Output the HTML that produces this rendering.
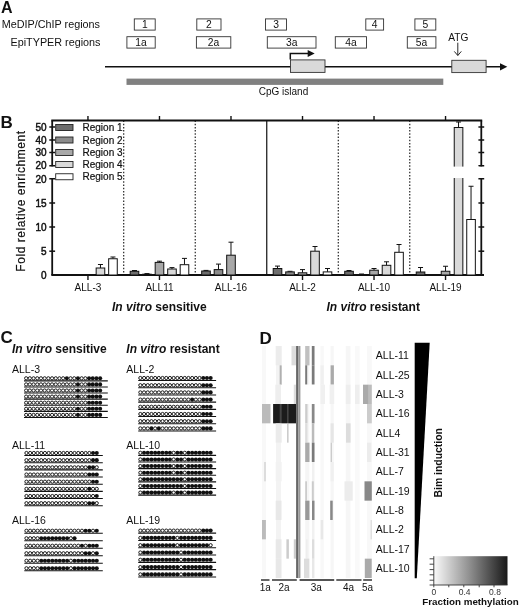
<!DOCTYPE html>
<html lang="en">
<head>
<meta charset="utf-8">
<title>Figure</title>
<style>
html,body{margin:0;padding:0;background:#fff;}
body{width:520px;height:608px;overflow:hidden;font-family:'Liberation Sans', sans-serif;}
svg{display:block;position:absolute;left:0;top:0;}
svg text{font-family:'Liberation Sans', sans-serif;}
</style>
</head>
<body>
<svg width="520" height="608" viewBox="0 0 520 608">
<rect x="0" y="0" width="520" height="608" fill="#ffffff"/>
<g id="panelA">
<text x="1" y="12.7" font-size="16" font-weight="bold" text-anchor="start" fill="#111" >A</text>
<text x="1.8" y="28" font-size="10.8" font-weight="normal" text-anchor="start" fill="#111" >MeDIP/ChIP regions</text>
<text x="10.5" y="46.2" font-size="10.8" font-weight="normal" text-anchor="start" fill="#111" >EpiTYPER regions</text>
<rect x="134.30" y="18.90" width="20.90" height="11.20" fill="#fff" stroke="#333" stroke-width="0.9" />
<text x="144.75" y="28.400000000000002" font-size="10.3" font-weight="normal" text-anchor="middle" fill="#111" >1</text>
<rect x="196.80" y="18.90" width="24.20" height="11.20" fill="#fff" stroke="#333" stroke-width="0.9" />
<text x="208.9" y="28.400000000000002" font-size="10.3" font-weight="normal" text-anchor="middle" fill="#111" >2</text>
<rect x="265.50" y="18.90" width="21.00" height="11.20" fill="#fff" stroke="#333" stroke-width="0.9" />
<text x="276.0" y="28.400000000000002" font-size="10.3" font-weight="normal" text-anchor="middle" fill="#111" >3</text>
<rect x="365.80" y="18.90" width="17.80" height="11.20" fill="#fff" stroke="#333" stroke-width="0.9" />
<text x="374.70000000000005" y="28.400000000000002" font-size="10.3" font-weight="normal" text-anchor="middle" fill="#111" >4</text>
<rect x="414.90" y="18.90" width="20.90" height="11.20" fill="#fff" stroke="#333" stroke-width="0.9" />
<text x="425.35" y="28.400000000000002" font-size="10.3" font-weight="normal" text-anchor="middle" fill="#111" >5</text>
<rect x="126.90" y="36.70" width="28.30" height="11.40" fill="#fff" stroke="#333" stroke-width="0.9" />
<text x="141.05" y="46.4" font-size="10.3" font-weight="normal" text-anchor="middle" fill="#111" >1a</text>
<rect x="196.40" y="36.70" width="34.40" height="11.40" fill="#fff" stroke="#333" stroke-width="0.9" />
<text x="213.60000000000002" y="46.4" font-size="10.3" font-weight="normal" text-anchor="middle" fill="#111" >2a</text>
<rect x="267.30" y="36.70" width="48.70" height="11.40" fill="#fff" stroke="#333" stroke-width="0.9" />
<text x="291.65" y="46.4" font-size="10.3" font-weight="normal" text-anchor="middle" fill="#111" >3a</text>
<rect x="335.30" y="36.70" width="31.20" height="11.40" fill="#fff" stroke="#333" stroke-width="0.9" />
<text x="350.9" y="46.4" font-size="10.3" font-weight="normal" text-anchor="middle" fill="#111" >4a</text>
<rect x="407.30" y="36.70" width="28.60" height="11.40" fill="#fff" stroke="#333" stroke-width="0.9" />
<text x="421.6" y="46.4" font-size="10.3" font-weight="normal" text-anchor="middle" fill="#111" >5a</text>
<line x1="105.00" y1="66.80" x2="502.00" y2="66.80" stroke="#111" stroke-width="1.6" />
<polygon points="500,63.2 507.3,66.8 500,70.4" fill="#111"/>
<rect x="290.50" y="59.90" width="34.50" height="12.50" fill="#d9d9d9" stroke="#333" stroke-width="0.9" />
<rect x="451.80" y="60.30" width="34.30" height="12.30" fill="#d9d9d9" stroke="#333" stroke-width="0.9" />
<polyline points="290.3,59.5 290.3,53.4 309,53.4" fill="none" stroke="#111" stroke-width="1.5"/>
<polygon points="307.7,49.9 314.7,53.4 307.7,56.9" fill="#111"/>
<text x="458.3" y="40.9" font-size="10.2" font-weight="normal" text-anchor="middle" fill="#111" >ATG</text>
<line x1="457.80" y1="42.70" x2="457.80" y2="55.30" stroke="#111" stroke-width="0.9" />
<polyline points="454.3,51.4 457.8,55.5 461.3,51.4" fill="none" stroke="#111" stroke-width="0.9"/>
<rect x="126.50" y="78.60" width="316.80" height="6.30" fill="#808080" stroke="none" stroke-width="1" />
<text x="283.5" y="95" font-size="10" font-weight="normal" text-anchor="middle" fill="#111" >CpG island</text>
</g>
<g id="panelB">
<text x="0.5" y="128" font-size="17" font-weight="bold" text-anchor="start" fill="#111" >B</text>
<line x1="51.30" y1="120.50" x2="482.20" y2="120.50" stroke="#111" stroke-width="1.8" />
<line x1="87.96" y1="116.00" x2="87.96" y2="120.50" stroke="#111" stroke-width="1.4" />
<line x1="87.96" y1="275.00" x2="87.96" y2="280.00" stroke="#111" stroke-width="1.4" />
<line x1="159.48" y1="116.00" x2="159.48" y2="120.50" stroke="#111" stroke-width="1.4" />
<line x1="159.48" y1="275.00" x2="159.48" y2="280.00" stroke="#111" stroke-width="1.4" />
<line x1="230.99" y1="116.00" x2="230.99" y2="120.50" stroke="#111" stroke-width="1.4" />
<line x1="230.99" y1="275.00" x2="230.99" y2="280.00" stroke="#111" stroke-width="1.4" />
<line x1="302.51" y1="116.00" x2="302.51" y2="120.50" stroke="#111" stroke-width="1.4" />
<line x1="302.51" y1="275.00" x2="302.51" y2="280.00" stroke="#111" stroke-width="1.4" />
<line x1="374.02" y1="116.00" x2="374.02" y2="120.50" stroke="#111" stroke-width="1.4" />
<line x1="374.02" y1="275.00" x2="374.02" y2="280.00" stroke="#111" stroke-width="1.4" />
<line x1="445.54" y1="116.00" x2="445.54" y2="120.50" stroke="#111" stroke-width="1.4" />
<line x1="445.54" y1="275.00" x2="445.54" y2="280.00" stroke="#111" stroke-width="1.4" />
<line x1="123.72" y1="120.50" x2="123.72" y2="275.00" stroke="#111" stroke-width="1.1" stroke-dasharray="1.5,1.7"/>
<line x1="195.23" y1="120.50" x2="195.23" y2="275.00" stroke="#111" stroke-width="1.1" stroke-dasharray="1.5,1.7"/>
<line x1="266.75" y1="120.50" x2="266.75" y2="275.00" stroke="#111" stroke-width="1.2" />
<line x1="338.27" y1="120.50" x2="338.27" y2="275.00" stroke="#111" stroke-width="1.1" stroke-dasharray="1.5,1.7"/>
<line x1="409.78" y1="120.50" x2="409.78" y2="275.00" stroke="#111" stroke-width="1.1" stroke-dasharray="1.5,1.7"/>
<line x1="51.30" y1="275.00" x2="484.00" y2="275.00" stroke="#111" stroke-width="2.0" />
<line x1="52.20" y1="120.50" x2="52.20" y2="166.40" stroke="#111" stroke-width="1.8" />
<line x1="52.20" y1="178.10" x2="52.20" y2="275.00" stroke="#111" stroke-width="1.8" />
<line x1="49.30" y1="127.00" x2="55.10" y2="127.00" stroke="#111" stroke-width="1.5" />
<line x1="49.30" y1="140.00" x2="55.10" y2="140.00" stroke="#111" stroke-width="1.5" />
<line x1="49.30" y1="152.50" x2="55.10" y2="152.50" stroke="#111" stroke-width="1.5" />
<line x1="49.30" y1="165.75" x2="55.10" y2="165.75" stroke="#111" stroke-width="1.5" />
<line x1="49.30" y1="178.75" x2="55.10" y2="178.75" stroke="#111" stroke-width="1.5" />
<line x1="49.30" y1="203.00" x2="55.10" y2="203.00" stroke="#111" stroke-width="1.5" />
<line x1="49.30" y1="227.00" x2="55.10" y2="227.00" stroke="#111" stroke-width="1.5" />
<line x1="49.30" y1="251.20" x2="55.10" y2="251.20" stroke="#111" stroke-width="1.5" />
<line x1="481.30" y1="120.50" x2="481.30" y2="166.40" stroke="#111" stroke-width="1.8" />
<line x1="481.30" y1="178.10" x2="481.30" y2="275.00" stroke="#111" stroke-width="1.8" />
<line x1="478.40" y1="127.00" x2="484.20" y2="127.00" stroke="#111" stroke-width="1.5" />
<line x1="478.40" y1="140.00" x2="484.20" y2="140.00" stroke="#111" stroke-width="1.5" />
<line x1="478.40" y1="152.50" x2="484.20" y2="152.50" stroke="#111" stroke-width="1.5" />
<line x1="478.40" y1="165.75" x2="484.20" y2="165.75" stroke="#111" stroke-width="1.5" />
<line x1="478.40" y1="178.75" x2="484.20" y2="178.75" stroke="#111" stroke-width="1.5" />
<line x1="478.40" y1="203.00" x2="484.20" y2="203.00" stroke="#111" stroke-width="1.5" />
<line x1="478.40" y1="227.00" x2="484.20" y2="227.00" stroke="#111" stroke-width="1.5" />
<line x1="478.40" y1="251.20" x2="484.20" y2="251.20" stroke="#111" stroke-width="1.5" />
<text x="46.5" y="130.5" font-size="10" font-weight="normal" text-anchor="end" fill="#111" stroke="#111" stroke-width="0.45">50</text>
<text x="46.5" y="143.5" font-size="10" font-weight="normal" text-anchor="end" fill="#111" stroke="#111" stroke-width="0.45">40</text>
<text x="46.5" y="156.0" font-size="10" font-weight="normal" text-anchor="end" fill="#111" stroke="#111" stroke-width="0.45">30</text>
<text x="46.5" y="169.0" font-size="10" font-weight="normal" text-anchor="end" fill="#111" stroke="#111" stroke-width="0.45">20</text>
<text x="46.5" y="182.5" font-size="10" font-weight="normal" text-anchor="end" fill="#111" stroke="#111" stroke-width="0.45">20</text>
<text x="46.5" y="206.5" font-size="10" font-weight="normal" text-anchor="end" fill="#111" stroke="#111" stroke-width="0.45">15</text>
<text x="46.5" y="230.5" font-size="10" font-weight="normal" text-anchor="end" fill="#111" stroke="#111" stroke-width="0.45">10</text>
<text x="46.5" y="254.7" font-size="10" font-weight="normal" text-anchor="end" fill="#111" stroke="#111" stroke-width="0.45">5</text>
<text x="46.5" y="278.5" font-size="10" font-weight="normal" text-anchor="end" fill="#111" stroke="#111" stroke-width="0.45">0</text>
<text transform="translate(24.7,201) rotate(-90)" font-size="12" letter-spacing="0.55" text-anchor="middle" fill="#111" stroke="#111" stroke-width="0.2">Fold relative enrichment</text>
<rect x="55.70" y="124.50" width="17.30" height="6.00" fill="#6e6e6e" stroke="#222" stroke-width="0.9" />
<text x="82.5" y="131.1" font-size="10" fill="#111" stroke="#111" stroke-width="0.2">Region 1</text>
<rect x="55.70" y="137.00" width="17.30" height="6.00" fill="#8c8c8c" stroke="#222" stroke-width="0.9" />
<text x="82.5" y="143.6" font-size="10" fill="#111" stroke="#111" stroke-width="0.2">Region 2</text>
<rect x="55.70" y="149.50" width="17.30" height="6.00" fill="#a8a8a8" stroke="#222" stroke-width="0.9" />
<text x="82.5" y="156.1" font-size="10" fill="#111" stroke="#111" stroke-width="0.2">Region 3</text>
<rect x="55.70" y="161.50" width="17.30" height="6.00" fill="#d9d9d9" stroke="#222" stroke-width="0.9" />
<text x="82.5" y="168.1" font-size="10" fill="#111" stroke="#111" stroke-width="0.2">Region 4</text>
<rect x="55.70" y="173.75" width="17.30" height="6.00" fill="#ffffff" stroke="#222" stroke-width="0.9" />
<text x="82.5" y="180.35" font-size="10" fill="#111" stroke="#111" stroke-width="0.2">Region 5</text>
<line x1="100.46" y1="264.50" x2="100.46" y2="268.00" stroke="#111" stroke-width="1.0" />
<line x1="97.96" y1="264.50" x2="102.96" y2="264.50" stroke="#111" stroke-width="1.0" />
<rect x="96.16" y="268.00" width="8.60" height="7.00" fill="#d9d9d9" stroke="#111" stroke-width="1.0" />
<line x1="112.96" y1="257.00" x2="112.96" y2="258.75" stroke="#111" stroke-width="1.0" />
<line x1="110.46" y1="257.00" x2="115.46" y2="257.00" stroke="#111" stroke-width="1.0" />
<rect x="108.66" y="258.75" width="8.60" height="16.25" fill="#ffffff" stroke="#111" stroke-width="1.0" />
<line x1="134.48" y1="270.50" x2="134.48" y2="271.30" stroke="#111" stroke-width="1.0" />
<line x1="131.98" y1="270.50" x2="136.98" y2="270.50" stroke="#111" stroke-width="1.0" />
<rect x="130.18" y="271.30" width="8.60" height="3.70" fill="#6e6e6e" stroke="#111" stroke-width="1.0" />
<line x1="146.98" y1="273.60" x2="146.98" y2="274.20" stroke="#111" stroke-width="1.0" />
<line x1="144.48" y1="273.60" x2="149.48" y2="273.60" stroke="#111" stroke-width="1.0" />
<rect x="142.68" y="274.20" width="8.60" height="0.80" fill="#8c8c8c" stroke="#111" stroke-width="1.0" />
<line x1="159.48" y1="261.20" x2="159.48" y2="262.40" stroke="#111" stroke-width="1.0" />
<line x1="156.98" y1="261.20" x2="161.98" y2="261.20" stroke="#111" stroke-width="1.0" />
<rect x="155.18" y="262.40" width="8.60" height="12.60" fill="#a8a8a8" stroke="#111" stroke-width="1.0" />
<line x1="171.98" y1="267.60" x2="171.98" y2="269.00" stroke="#111" stroke-width="1.0" />
<line x1="169.48" y1="267.60" x2="174.48" y2="267.60" stroke="#111" stroke-width="1.0" />
<rect x="167.68" y="269.00" width="8.60" height="6.00" fill="#d9d9d9" stroke="#111" stroke-width="1.0" />
<line x1="184.48" y1="258.40" x2="184.48" y2="264.70" stroke="#111" stroke-width="1.0" />
<line x1="181.98" y1="258.40" x2="186.98" y2="258.40" stroke="#111" stroke-width="1.0" />
<rect x="180.18" y="264.70" width="8.60" height="10.30" fill="#ffffff" stroke="#111" stroke-width="1.0" />
<line x1="205.99" y1="270.40" x2="205.99" y2="271.00" stroke="#111" stroke-width="1.0" />
<line x1="203.49" y1="270.40" x2="208.49" y2="270.40" stroke="#111" stroke-width="1.0" />
<rect x="201.69" y="271.00" width="8.60" height="4.00" fill="#6e6e6e" stroke="#111" stroke-width="1.0" />
<line x1="218.49" y1="264.10" x2="218.49" y2="269.60" stroke="#111" stroke-width="1.0" />
<line x1="215.99" y1="264.10" x2="220.99" y2="264.10" stroke="#111" stroke-width="1.0" />
<rect x="214.19" y="269.60" width="8.60" height="5.40" fill="#8c8c8c" stroke="#111" stroke-width="1.0" />
<line x1="230.99" y1="242.20" x2="230.99" y2="255.20" stroke="#111" stroke-width="1.0" />
<line x1="228.49" y1="242.20" x2="233.49" y2="242.20" stroke="#111" stroke-width="1.0" />
<rect x="226.69" y="255.20" width="8.60" height="19.80" fill="#a8a8a8" stroke="#111" stroke-width="1.0" />
<line x1="277.51" y1="266.10" x2="277.51" y2="268.50" stroke="#111" stroke-width="1.0" />
<line x1="275.01" y1="266.10" x2="280.01" y2="266.10" stroke="#111" stroke-width="1.0" />
<rect x="273.21" y="268.50" width="8.60" height="6.50" fill="#6e6e6e" stroke="#111" stroke-width="1.0" />
<line x1="290.01" y1="271.30" x2="290.01" y2="271.90" stroke="#111" stroke-width="1.0" />
<line x1="287.51" y1="271.30" x2="292.51" y2="271.30" stroke="#111" stroke-width="1.0" />
<rect x="285.71" y="271.90" width="8.60" height="3.10" fill="#8c8c8c" stroke="#111" stroke-width="1.0" />
<line x1="302.51" y1="269.60" x2="302.51" y2="272.80" stroke="#111" stroke-width="1.0" />
<line x1="300.01" y1="269.60" x2="305.01" y2="269.60" stroke="#111" stroke-width="1.0" />
<rect x="298.21" y="272.80" width="8.60" height="2.20" fill="#a8a8a8" stroke="#111" stroke-width="1.0" />
<line x1="315.01" y1="246.50" x2="315.01" y2="251.20" stroke="#111" stroke-width="1.0" />
<line x1="312.51" y1="246.50" x2="317.51" y2="246.50" stroke="#111" stroke-width="1.0" />
<rect x="310.71" y="251.20" width="8.60" height="23.80" fill="#d9d9d9" stroke="#111" stroke-width="1.0" />
<line x1="327.51" y1="268.50" x2="327.51" y2="271.90" stroke="#111" stroke-width="1.0" />
<line x1="325.01" y1="268.50" x2="330.01" y2="268.50" stroke="#111" stroke-width="1.0" />
<rect x="323.21" y="271.90" width="8.60" height="3.10" fill="#ffffff" stroke="#111" stroke-width="1.0" />
<line x1="349.02" y1="270.50" x2="349.02" y2="271.30" stroke="#111" stroke-width="1.0" />
<line x1="346.52" y1="270.50" x2="351.52" y2="270.50" stroke="#111" stroke-width="1.0" />
<rect x="344.72" y="271.30" width="8.60" height="3.70" fill="#6e6e6e" stroke="#111" stroke-width="1.0" />
<line x1="361.52" y1="274.00" x2="361.52" y2="274.50" stroke="#111" stroke-width="1.0" />
<line x1="359.02" y1="274.00" x2="364.02" y2="274.00" stroke="#111" stroke-width="1.0" />
<rect x="357.22" y="274.50" width="8.60" height="0.50" fill="#8c8c8c" stroke="#111" stroke-width="1.0" />
<line x1="374.02" y1="268.50" x2="374.02" y2="270.20" stroke="#111" stroke-width="1.0" />
<line x1="371.52" y1="268.50" x2="376.52" y2="268.50" stroke="#111" stroke-width="1.0" />
<rect x="369.72" y="270.20" width="8.60" height="4.80" fill="#a8a8a8" stroke="#111" stroke-width="1.0" />
<line x1="386.52" y1="261.80" x2="386.52" y2="265.30" stroke="#111" stroke-width="1.0" />
<line x1="384.02" y1="261.80" x2="389.02" y2="261.80" stroke="#111" stroke-width="1.0" />
<rect x="382.22" y="265.30" width="8.60" height="9.70" fill="#d9d9d9" stroke="#111" stroke-width="1.0" />
<line x1="399.02" y1="244.50" x2="399.02" y2="252.30" stroke="#111" stroke-width="1.0" />
<line x1="396.52" y1="244.50" x2="401.52" y2="244.50" stroke="#111" stroke-width="1.0" />
<rect x="394.72" y="252.30" width="8.60" height="22.70" fill="#ffffff" stroke="#111" stroke-width="1.0" />
<line x1="420.54" y1="267.50" x2="420.54" y2="272.00" stroke="#111" stroke-width="1.0" />
<line x1="418.04" y1="267.50" x2="423.04" y2="267.50" stroke="#111" stroke-width="1.0" />
<rect x="416.24" y="272.00" width="8.60" height="3.00" fill="#6e6e6e" stroke="#111" stroke-width="1.0" />
<line x1="445.54" y1="266.25" x2="445.54" y2="271.25" stroke="#111" stroke-width="1.0" />
<line x1="443.04" y1="266.25" x2="448.04" y2="266.25" stroke="#111" stroke-width="1.0" />
<rect x="441.24" y="271.25" width="8.60" height="3.75" fill="#a8a8a8" stroke="#111" stroke-width="1.0" />
<line x1="458.54" y1="122.00" x2="458.54" y2="127.50" stroke="#111" stroke-width="1.0" />
<line x1="456.04" y1="122.00" x2="461.04" y2="122.00" stroke="#111" stroke-width="1.0" />
<rect x="454.24" y="127.50" width="8.60" height="147.50" fill="#d9d9d9" stroke="#111" stroke-width="1.0" />
<line x1="471.04" y1="186.25" x2="471.04" y2="219.50" stroke="#111" stroke-width="1.0" />
<line x1="468.54" y1="186.25" x2="473.54" y2="186.25" stroke="#111" stroke-width="1.0" />
<rect x="466.74" y="219.50" width="8.60" height="55.50" fill="#ffffff" stroke="#111" stroke-width="1.0" />
<rect x="440.00" y="166.60" width="39.00" height="11.40" fill="#fff" stroke="none" stroke-width="1" />
<text x="87.95833333333334" y="291.2" font-size="10" font-weight="normal" text-anchor="middle" fill="#111" >ALL-3</text>
<text x="159.47500000000002" y="291.2" font-size="10" font-weight="normal" text-anchor="middle" fill="#111" >ALL11</text>
<text x="230.99166666666667" y="291.2" font-size="10" font-weight="normal" text-anchor="middle" fill="#111" >ALL-16</text>
<text x="302.5083333333333" y="291.2" font-size="10" font-weight="normal" text-anchor="middle" fill="#111" >ALL-2</text>
<text x="374.025" y="291.2" font-size="10" font-weight="normal" text-anchor="middle" fill="#111" >ALL-10</text>
<text x="445.54166666666663" y="291.2" font-size="10" font-weight="normal" text-anchor="middle" fill="#111" >ALL-19</text>
<text x="112" y="311" font-size="12" font-weight="bold" fill="#111"><tspan font-style="italic">In vitro</tspan> sensitive</text>
<text x="326.5" y="311" font-size="12" font-weight="bold" fill="#111"><tspan font-style="italic">In vitro</tspan> resistant</text>
</g>
<g id="panelC">
<text x="0.5" y="343" font-size="17" font-weight="bold" text-anchor="start" fill="#111" >C</text>
<text x="12" y="353" font-size="12" font-weight="bold" fill="#111"><tspan font-style="italic">In vitro</tspan> sensitive</text>
<text x="126.3" y="353" font-size="12" font-weight="bold" fill="#111"><tspan font-style="italic">In vitro</tspan> resistant</text>
<text x="12" y="372.5" font-size="10.5" font-weight="normal" text-anchor="start" fill="#111" >ALL-3</text>
<line x1="24.00" y1="380.85" x2="107.80" y2="380.85" stroke="#111" stroke-width="1.1" />
<circle cx="26.15" cy="378.30" r="1.6" fill="#fff" stroke="#111" stroke-width="0.95"/>
<circle cx="29.85" cy="378.30" r="1.6" fill="#fff" stroke="#111" stroke-width="0.95"/>
<circle cx="33.55" cy="378.30" r="1.6" fill="#fff" stroke="#111" stroke-width="0.95"/>
<circle cx="37.25" cy="378.30" r="1.6" fill="#fff" stroke="#111" stroke-width="0.95"/>
<circle cx="40.95" cy="378.30" r="1.6" fill="#fff" stroke="#111" stroke-width="0.95"/>
<circle cx="44.65" cy="378.30" r="1.6" fill="#fff" stroke="#111" stroke-width="0.95"/>
<circle cx="48.35" cy="378.30" r="1.6" fill="#fff" stroke="#111" stroke-width="0.95"/>
<circle cx="52.05" cy="378.30" r="1.6" fill="#fff" stroke="#111" stroke-width="0.95"/>
<circle cx="55.75" cy="378.30" r="1.6" fill="#fff" stroke="#111" stroke-width="0.95"/>
<circle cx="59.45" cy="378.30" r="1.6" fill="#fff" stroke="#111" stroke-width="0.95"/>
<circle cx="63.15" cy="378.30" r="1.6" fill="#fff" stroke="#111" stroke-width="0.95"/>
<circle cx="66.85" cy="378.30" r="2.05" fill="#111"/>
<circle cx="70.55" cy="378.30" r="1.6" fill="#fff" stroke="#111" stroke-width="0.95"/>
<circle cx="74.25" cy="378.30" r="1.6" fill="#fff" stroke="#111" stroke-width="0.95"/>
<circle cx="77.95" cy="378.30" r="2.05" fill="#111"/>
<circle cx="81.65" cy="378.30" r="1.6" fill="#fff" stroke="#111" stroke-width="0.95"/>
<circle cx="85.35" cy="378.30" r="1.6" fill="#fff" stroke="#111" stroke-width="0.95"/>
<circle cx="89.05" cy="378.30" r="2.05" fill="#111"/>
<circle cx="92.75" cy="378.30" r="2.05" fill="#111"/>
<circle cx="96.45" cy="378.30" r="2.05" fill="#111"/>
<circle cx="100.15" cy="378.30" r="2.05" fill="#111"/>
<line x1="24.00" y1="386.95" x2="107.80" y2="386.95" stroke="#111" stroke-width="1.1" />
<circle cx="26.15" cy="384.40" r="1.6" fill="#fff" stroke="#111" stroke-width="0.95"/>
<circle cx="29.85" cy="384.40" r="1.6" fill="#fff" stroke="#111" stroke-width="0.95"/>
<circle cx="33.55" cy="384.40" r="1.6" fill="#fff" stroke="#111" stroke-width="0.95"/>
<circle cx="37.25" cy="384.40" r="1.6" fill="#fff" stroke="#111" stroke-width="0.95"/>
<circle cx="40.95" cy="384.40" r="1.6" fill="#fff" stroke="#111" stroke-width="0.95"/>
<circle cx="44.65" cy="384.40" r="1.6" fill="#fff" stroke="#111" stroke-width="0.95"/>
<circle cx="48.35" cy="384.40" r="1.6" fill="#fff" stroke="#111" stroke-width="0.95"/>
<circle cx="52.05" cy="384.40" r="1.6" fill="#fff" stroke="#111" stroke-width="0.95"/>
<circle cx="55.75" cy="384.40" r="1.6" fill="#fff" stroke="#111" stroke-width="0.95"/>
<circle cx="59.45" cy="384.40" r="1.6" fill="#fff" stroke="#111" stroke-width="0.95"/>
<circle cx="63.15" cy="384.40" r="1.6" fill="#fff" stroke="#111" stroke-width="0.95"/>
<circle cx="66.85" cy="384.40" r="1.6" fill="#fff" stroke="#111" stroke-width="0.95"/>
<circle cx="70.55" cy="384.40" r="1.6" fill="#fff" stroke="#111" stroke-width="0.95"/>
<circle cx="74.25" cy="384.40" r="1.6" fill="#fff" stroke="#111" stroke-width="0.95"/>
<circle cx="77.95" cy="384.40" r="2.05" fill="#111"/>
<circle cx="81.65" cy="384.40" r="1.6" fill="#fff" stroke="#111" stroke-width="0.95"/>
<circle cx="85.35" cy="384.40" r="1.6" fill="#fff" stroke="#111" stroke-width="0.95"/>
<circle cx="89.05" cy="384.40" r="2.05" fill="#111"/>
<circle cx="92.75" cy="384.40" r="2.05" fill="#111"/>
<circle cx="96.45" cy="384.40" r="2.05" fill="#111"/>
<circle cx="100.15" cy="384.40" r="2.05" fill="#111"/>
<line x1="24.00" y1="393.05" x2="107.80" y2="393.05" stroke="#111" stroke-width="1.1" />
<circle cx="26.15" cy="390.50" r="1.6" fill="#fff" stroke="#111" stroke-width="0.95"/>
<circle cx="29.85" cy="390.50" r="1.6" fill="#fff" stroke="#111" stroke-width="0.95"/>
<circle cx="33.55" cy="390.50" r="1.6" fill="#fff" stroke="#111" stroke-width="0.95"/>
<circle cx="37.25" cy="390.50" r="1.6" fill="#fff" stroke="#111" stroke-width="0.95"/>
<circle cx="40.95" cy="390.50" r="1.6" fill="#fff" stroke="#111" stroke-width="0.95"/>
<circle cx="44.65" cy="390.50" r="1.6" fill="#fff" stroke="#111" stroke-width="0.95"/>
<circle cx="48.35" cy="390.50" r="1.6" fill="#fff" stroke="#111" stroke-width="0.95"/>
<circle cx="52.05" cy="390.50" r="1.6" fill="#fff" stroke="#111" stroke-width="0.95"/>
<circle cx="55.75" cy="390.50" r="1.6" fill="#fff" stroke="#111" stroke-width="0.95"/>
<circle cx="59.45" cy="390.50" r="1.6" fill="#fff" stroke="#111" stroke-width="0.95"/>
<circle cx="63.15" cy="390.50" r="1.6" fill="#fff" stroke="#111" stroke-width="0.95"/>
<circle cx="66.85" cy="390.50" r="1.6" fill="#fff" stroke="#111" stroke-width="0.95"/>
<circle cx="70.55" cy="390.50" r="1.6" fill="#fff" stroke="#111" stroke-width="0.95"/>
<circle cx="74.25" cy="390.50" r="1.6" fill="#fff" stroke="#111" stroke-width="0.95"/>
<circle cx="77.95" cy="390.50" r="2.05" fill="#111"/>
<circle cx="81.65" cy="390.50" r="1.6" fill="#fff" stroke="#111" stroke-width="0.95"/>
<circle cx="85.35" cy="390.50" r="1.6" fill="#fff" stroke="#111" stroke-width="0.95"/>
<circle cx="89.05" cy="390.50" r="2.05" fill="#111"/>
<circle cx="92.75" cy="390.50" r="2.05" fill="#111"/>
<circle cx="96.45" cy="390.50" r="2.05" fill="#111"/>
<circle cx="100.15" cy="390.50" r="2.05" fill="#111"/>
<line x1="24.00" y1="399.15" x2="107.80" y2="399.15" stroke="#111" stroke-width="1.1" />
<circle cx="26.15" cy="396.60" r="1.6" fill="#fff" stroke="#111" stroke-width="0.95"/>
<circle cx="29.85" cy="396.60" r="1.6" fill="#fff" stroke="#111" stroke-width="0.95"/>
<circle cx="33.55" cy="396.60" r="1.6" fill="#fff" stroke="#111" stroke-width="0.95"/>
<circle cx="37.25" cy="396.60" r="1.6" fill="#fff" stroke="#111" stroke-width="0.95"/>
<circle cx="40.95" cy="396.60" r="1.6" fill="#fff" stroke="#111" stroke-width="0.95"/>
<circle cx="44.65" cy="396.60" r="1.6" fill="#fff" stroke="#111" stroke-width="0.95"/>
<circle cx="48.35" cy="396.60" r="1.6" fill="#fff" stroke="#111" stroke-width="0.95"/>
<circle cx="52.05" cy="396.60" r="1.6" fill="#fff" stroke="#111" stroke-width="0.95"/>
<circle cx="55.75" cy="396.60" r="1.6" fill="#fff" stroke="#111" stroke-width="0.95"/>
<circle cx="59.45" cy="396.60" r="1.6" fill="#fff" stroke="#111" stroke-width="0.95"/>
<circle cx="63.15" cy="396.60" r="1.6" fill="#fff" stroke="#111" stroke-width="0.95"/>
<circle cx="66.85" cy="396.60" r="1.6" fill="#fff" stroke="#111" stroke-width="0.95"/>
<circle cx="70.55" cy="396.60" r="1.6" fill="#fff" stroke="#111" stroke-width="0.95"/>
<circle cx="74.25" cy="396.60" r="1.6" fill="#fff" stroke="#111" stroke-width="0.95"/>
<circle cx="77.95" cy="396.60" r="2.05" fill="#111"/>
<circle cx="81.65" cy="396.60" r="1.6" fill="#fff" stroke="#111" stroke-width="0.95"/>
<circle cx="85.35" cy="396.60" r="1.6" fill="#fff" stroke="#111" stroke-width="0.95"/>
<circle cx="89.05" cy="396.60" r="2.05" fill="#111"/>
<circle cx="92.75" cy="396.60" r="2.05" fill="#111"/>
<circle cx="96.45" cy="396.60" r="2.05" fill="#111"/>
<circle cx="100.15" cy="396.60" r="2.05" fill="#111"/>
<line x1="24.00" y1="405.25" x2="107.80" y2="405.25" stroke="#111" stroke-width="1.1" />
<circle cx="26.15" cy="402.70" r="1.6" fill="#fff" stroke="#111" stroke-width="0.95"/>
<circle cx="29.85" cy="402.70" r="1.6" fill="#fff" stroke="#111" stroke-width="0.95"/>
<circle cx="33.55" cy="402.70" r="1.6" fill="#fff" stroke="#111" stroke-width="0.95"/>
<circle cx="37.25" cy="402.70" r="1.6" fill="#fff" stroke="#111" stroke-width="0.95"/>
<circle cx="40.95" cy="402.70" r="1.6" fill="#fff" stroke="#111" stroke-width="0.95"/>
<circle cx="44.65" cy="402.70" r="1.6" fill="#fff" stroke="#111" stroke-width="0.95"/>
<circle cx="48.35" cy="402.70" r="1.6" fill="#fff" stroke="#111" stroke-width="0.95"/>
<circle cx="52.05" cy="402.70" r="1.6" fill="#fff" stroke="#111" stroke-width="0.95"/>
<circle cx="55.75" cy="402.70" r="1.6" fill="#fff" stroke="#111" stroke-width="0.95"/>
<circle cx="59.45" cy="402.70" r="1.6" fill="#fff" stroke="#111" stroke-width="0.95"/>
<circle cx="63.15" cy="402.70" r="1.6" fill="#fff" stroke="#111" stroke-width="0.95"/>
<circle cx="66.85" cy="402.70" r="1.6" fill="#fff" stroke="#111" stroke-width="0.95"/>
<circle cx="70.55" cy="402.70" r="1.6" fill="#fff" stroke="#111" stroke-width="0.95"/>
<circle cx="74.25" cy="402.70" r="1.6" fill="#fff" stroke="#111" stroke-width="0.95"/>
<circle cx="77.95" cy="402.70" r="1.6" fill="#fff" stroke="#111" stroke-width="0.95"/>
<circle cx="81.65" cy="402.70" r="1.6" fill="#fff" stroke="#111" stroke-width="0.95"/>
<circle cx="85.35" cy="402.70" r="1.6" fill="#fff" stroke="#111" stroke-width="0.95"/>
<circle cx="89.05" cy="402.70" r="2.05" fill="#111"/>
<circle cx="92.75" cy="402.70" r="2.05" fill="#111"/>
<circle cx="96.45" cy="402.70" r="2.05" fill="#111"/>
<circle cx="100.15" cy="402.70" r="2.05" fill="#111"/>
<line x1="24.00" y1="411.35" x2="107.80" y2="411.35" stroke="#111" stroke-width="1.1" />
<circle cx="26.15" cy="408.80" r="1.6" fill="#fff" stroke="#111" stroke-width="0.95"/>
<circle cx="29.85" cy="408.80" r="1.6" fill="#fff" stroke="#111" stroke-width="0.95"/>
<circle cx="33.55" cy="408.80" r="1.6" fill="#fff" stroke="#111" stroke-width="0.95"/>
<circle cx="37.25" cy="408.80" r="1.6" fill="#fff" stroke="#111" stroke-width="0.95"/>
<circle cx="40.95" cy="408.80" r="1.6" fill="#fff" stroke="#111" stroke-width="0.95"/>
<circle cx="44.65" cy="408.80" r="1.6" fill="#fff" stroke="#111" stroke-width="0.95"/>
<circle cx="48.35" cy="408.80" r="1.6" fill="#fff" stroke="#111" stroke-width="0.95"/>
<circle cx="52.05" cy="408.80" r="1.6" fill="#fff" stroke="#111" stroke-width="0.95"/>
<circle cx="55.75" cy="408.80" r="1.6" fill="#fff" stroke="#111" stroke-width="0.95"/>
<circle cx="59.45" cy="408.80" r="1.6" fill="#fff" stroke="#111" stroke-width="0.95"/>
<circle cx="63.15" cy="408.80" r="1.6" fill="#fff" stroke="#111" stroke-width="0.95"/>
<circle cx="66.85" cy="408.80" r="1.6" fill="#fff" stroke="#111" stroke-width="0.95"/>
<circle cx="70.55" cy="408.80" r="1.6" fill="#fff" stroke="#111" stroke-width="0.95"/>
<circle cx="74.25" cy="408.80" r="1.6" fill="#fff" stroke="#111" stroke-width="0.95"/>
<circle cx="77.95" cy="408.80" r="2.05" fill="#111"/>
<circle cx="81.65" cy="408.80" r="1.6" fill="#fff" stroke="#111" stroke-width="0.95"/>
<circle cx="85.35" cy="408.80" r="1.6" fill="#fff" stroke="#111" stroke-width="0.95"/>
<circle cx="89.05" cy="408.80" r="2.05" fill="#111"/>
<circle cx="92.75" cy="408.80" r="2.05" fill="#111"/>
<circle cx="96.45" cy="408.80" r="2.05" fill="#111"/>
<circle cx="100.15" cy="408.80" r="2.05" fill="#111"/>
<line x1="24.00" y1="417.45" x2="107.80" y2="417.45" stroke="#111" stroke-width="1.1" />
<circle cx="26.15" cy="414.90" r="1.6" fill="#fff" stroke="#111" stroke-width="0.95"/>
<circle cx="29.85" cy="414.90" r="1.6" fill="#fff" stroke="#111" stroke-width="0.95"/>
<circle cx="33.55" cy="414.90" r="1.6" fill="#fff" stroke="#111" stroke-width="0.95"/>
<circle cx="37.25" cy="414.90" r="1.6" fill="#fff" stroke="#111" stroke-width="0.95"/>
<circle cx="40.95" cy="414.90" r="1.6" fill="#fff" stroke="#111" stroke-width="0.95"/>
<circle cx="44.65" cy="414.90" r="1.6" fill="#fff" stroke="#111" stroke-width="0.95"/>
<circle cx="48.35" cy="414.90" r="1.6" fill="#fff" stroke="#111" stroke-width="0.95"/>
<circle cx="52.05" cy="414.90" r="1.6" fill="#fff" stroke="#111" stroke-width="0.95"/>
<circle cx="55.75" cy="414.90" r="1.6" fill="#fff" stroke="#111" stroke-width="0.95"/>
<circle cx="59.45" cy="414.90" r="1.6" fill="#fff" stroke="#111" stroke-width="0.95"/>
<circle cx="63.15" cy="414.90" r="1.6" fill="#fff" stroke="#111" stroke-width="0.95"/>
<circle cx="66.85" cy="414.90" r="1.6" fill="#fff" stroke="#111" stroke-width="0.95"/>
<circle cx="70.55" cy="414.90" r="1.6" fill="#fff" stroke="#111" stroke-width="0.95"/>
<circle cx="74.25" cy="414.90" r="1.6" fill="#fff" stroke="#111" stroke-width="0.95"/>
<circle cx="77.95" cy="414.90" r="2.05" fill="#111"/>
<circle cx="81.65" cy="414.90" r="1.6" fill="#fff" stroke="#111" stroke-width="0.95"/>
<circle cx="85.35" cy="414.90" r="1.6" fill="#fff" stroke="#111" stroke-width="0.95"/>
<circle cx="89.05" cy="414.90" r="2.05" fill="#111"/>
<circle cx="92.75" cy="414.90" r="2.05" fill="#111"/>
<circle cx="96.45" cy="414.90" r="2.05" fill="#111"/>
<circle cx="100.15" cy="414.90" r="2.05" fill="#111"/>
<text x="12" y="449" font-size="10.5" font-weight="normal" text-anchor="start" fill="#111" >ALL-11</text>
<line x1="24.30" y1="455.55" x2="102.80" y2="455.55" stroke="#111" stroke-width="1.1" />
<circle cx="26.45" cy="453.00" r="1.6" fill="#fff" stroke="#111" stroke-width="0.95"/>
<circle cx="30.15" cy="453.00" r="1.6" fill="#fff" stroke="#111" stroke-width="0.95"/>
<circle cx="33.85" cy="453.00" r="1.6" fill="#fff" stroke="#111" stroke-width="0.95"/>
<circle cx="37.55" cy="453.00" r="1.6" fill="#fff" stroke="#111" stroke-width="0.95"/>
<circle cx="41.25" cy="453.00" r="1.6" fill="#fff" stroke="#111" stroke-width="0.95"/>
<circle cx="44.95" cy="453.00" r="1.6" fill="#fff" stroke="#111" stroke-width="0.95"/>
<circle cx="48.65" cy="453.00" r="1.6" fill="#fff" stroke="#111" stroke-width="0.95"/>
<circle cx="52.35" cy="453.00" r="1.6" fill="#fff" stroke="#111" stroke-width="0.95"/>
<circle cx="56.05" cy="453.00" r="1.6" fill="#fff" stroke="#111" stroke-width="0.95"/>
<circle cx="59.75" cy="453.00" r="1.6" fill="#fff" stroke="#111" stroke-width="0.95"/>
<circle cx="63.45" cy="453.00" r="1.6" fill="#fff" stroke="#111" stroke-width="0.95"/>
<circle cx="67.15" cy="453.00" r="1.6" fill="#fff" stroke="#111" stroke-width="0.95"/>
<circle cx="70.85" cy="453.00" r="1.6" fill="#fff" stroke="#111" stroke-width="0.95"/>
<circle cx="74.55" cy="453.00" r="1.6" fill="#fff" stroke="#111" stroke-width="0.95"/>
<circle cx="78.25" cy="453.00" r="1.6" fill="#fff" stroke="#111" stroke-width="0.95"/>
<circle cx="81.95" cy="453.00" r="1.6" fill="#fff" stroke="#111" stroke-width="0.95"/>
<circle cx="85.65" cy="453.00" r="1.6" fill="#fff" stroke="#111" stroke-width="0.95"/>
<circle cx="89.35" cy="453.00" r="1.6" fill="#fff" stroke="#111" stroke-width="0.95"/>
<circle cx="93.05" cy="453.00" r="2.05" fill="#111"/>
<circle cx="96.75" cy="453.00" r="2.05" fill="#111"/>
<line x1="24.30" y1="462.72" x2="102.80" y2="462.72" stroke="#111" stroke-width="1.1" />
<circle cx="26.45" cy="460.17" r="1.6" fill="#fff" stroke="#111" stroke-width="0.95"/>
<circle cx="30.15" cy="460.17" r="1.6" fill="#fff" stroke="#111" stroke-width="0.95"/>
<circle cx="33.85" cy="460.17" r="1.6" fill="#fff" stroke="#111" stroke-width="0.95"/>
<circle cx="37.55" cy="460.17" r="1.6" fill="#fff" stroke="#111" stroke-width="0.95"/>
<circle cx="41.25" cy="460.17" r="1.6" fill="#fff" stroke="#111" stroke-width="0.95"/>
<circle cx="44.95" cy="460.17" r="1.6" fill="#fff" stroke="#111" stroke-width="0.95"/>
<circle cx="48.65" cy="460.17" r="1.6" fill="#fff" stroke="#111" stroke-width="0.95"/>
<circle cx="52.35" cy="460.17" r="1.6" fill="#fff" stroke="#111" stroke-width="0.95"/>
<circle cx="56.05" cy="460.17" r="1.6" fill="#fff" stroke="#111" stroke-width="0.95"/>
<circle cx="59.75" cy="460.17" r="1.6" fill="#fff" stroke="#111" stroke-width="0.95"/>
<circle cx="63.45" cy="460.17" r="1.6" fill="#fff" stroke="#111" stroke-width="0.95"/>
<circle cx="67.15" cy="460.17" r="1.6" fill="#fff" stroke="#111" stroke-width="0.95"/>
<circle cx="70.85" cy="460.17" r="1.6" fill="#fff" stroke="#111" stroke-width="0.95"/>
<circle cx="74.55" cy="460.17" r="1.6" fill="#fff" stroke="#111" stroke-width="0.95"/>
<circle cx="78.25" cy="460.17" r="1.6" fill="#fff" stroke="#111" stroke-width="0.95"/>
<circle cx="81.95" cy="460.17" r="1.6" fill="#fff" stroke="#111" stroke-width="0.95"/>
<circle cx="85.65" cy="460.17" r="1.6" fill="#fff" stroke="#111" stroke-width="0.95"/>
<circle cx="89.35" cy="460.17" r="1.6" fill="#fff" stroke="#111" stroke-width="0.95"/>
<circle cx="93.05" cy="460.17" r="2.05" fill="#111"/>
<circle cx="96.75" cy="460.17" r="2.05" fill="#111"/>
<line x1="24.30" y1="469.89" x2="102.80" y2="469.89" stroke="#111" stroke-width="1.1" />
<circle cx="26.45" cy="467.34" r="1.6" fill="#fff" stroke="#111" stroke-width="0.95"/>
<circle cx="30.15" cy="467.34" r="1.6" fill="#fff" stroke="#111" stroke-width="0.95"/>
<circle cx="33.85" cy="467.34" r="1.6" fill="#fff" stroke="#111" stroke-width="0.95"/>
<circle cx="37.55" cy="467.34" r="1.6" fill="#fff" stroke="#111" stroke-width="0.95"/>
<circle cx="41.25" cy="467.34" r="1.6" fill="#fff" stroke="#111" stroke-width="0.95"/>
<circle cx="44.95" cy="467.34" r="1.6" fill="#fff" stroke="#111" stroke-width="0.95"/>
<circle cx="48.65" cy="467.34" r="1.6" fill="#fff" stroke="#111" stroke-width="0.95"/>
<circle cx="52.35" cy="467.34" r="1.6" fill="#fff" stroke="#111" stroke-width="0.95"/>
<circle cx="56.05" cy="467.34" r="1.6" fill="#fff" stroke="#111" stroke-width="0.95"/>
<circle cx="59.75" cy="467.34" r="1.6" fill="#fff" stroke="#111" stroke-width="0.95"/>
<circle cx="63.45" cy="467.34" r="1.6" fill="#fff" stroke="#111" stroke-width="0.95"/>
<circle cx="67.15" cy="467.34" r="1.6" fill="#fff" stroke="#111" stroke-width="0.95"/>
<circle cx="70.85" cy="467.34" r="1.6" fill="#fff" stroke="#111" stroke-width="0.95"/>
<circle cx="74.55" cy="467.34" r="1.6" fill="#fff" stroke="#111" stroke-width="0.95"/>
<circle cx="78.25" cy="467.34" r="1.6" fill="#fff" stroke="#111" stroke-width="0.95"/>
<circle cx="81.95" cy="467.34" r="1.6" fill="#fff" stroke="#111" stroke-width="0.95"/>
<circle cx="85.65" cy="467.34" r="1.6" fill="#fff" stroke="#111" stroke-width="0.95"/>
<circle cx="89.35" cy="467.34" r="2.05" fill="#111"/>
<circle cx="93.05" cy="467.34" r="2.05" fill="#111"/>
<circle cx="96.75" cy="467.34" r="1.6" fill="#fff" stroke="#111" stroke-width="0.95"/>
<line x1="24.30" y1="477.06" x2="102.80" y2="477.06" stroke="#111" stroke-width="1.1" />
<circle cx="26.45" cy="474.51" r="1.6" fill="#fff" stroke="#111" stroke-width="0.95"/>
<circle cx="30.15" cy="474.51" r="1.6" fill="#fff" stroke="#111" stroke-width="0.95"/>
<circle cx="33.85" cy="474.51" r="1.6" fill="#fff" stroke="#111" stroke-width="0.95"/>
<circle cx="37.55" cy="474.51" r="1.6" fill="#fff" stroke="#111" stroke-width="0.95"/>
<circle cx="41.25" cy="474.51" r="1.6" fill="#fff" stroke="#111" stroke-width="0.95"/>
<circle cx="44.95" cy="474.51" r="1.6" fill="#fff" stroke="#111" stroke-width="0.95"/>
<circle cx="48.65" cy="474.51" r="1.6" fill="#fff" stroke="#111" stroke-width="0.95"/>
<circle cx="52.35" cy="474.51" r="1.6" fill="#fff" stroke="#111" stroke-width="0.95"/>
<circle cx="56.05" cy="474.51" r="1.6" fill="#fff" stroke="#111" stroke-width="0.95"/>
<circle cx="59.75" cy="474.51" r="1.6" fill="#fff" stroke="#111" stroke-width="0.95"/>
<circle cx="63.45" cy="474.51" r="1.6" fill="#fff" stroke="#111" stroke-width="0.95"/>
<circle cx="67.15" cy="474.51" r="1.6" fill="#fff" stroke="#111" stroke-width="0.95"/>
<circle cx="70.85" cy="474.51" r="1.6" fill="#fff" stroke="#111" stroke-width="0.95"/>
<circle cx="74.55" cy="474.51" r="1.6" fill="#fff" stroke="#111" stroke-width="0.95"/>
<circle cx="78.25" cy="474.51" r="1.6" fill="#fff" stroke="#111" stroke-width="0.95"/>
<circle cx="81.95" cy="474.51" r="1.6" fill="#fff" stroke="#111" stroke-width="0.95"/>
<circle cx="85.65" cy="474.51" r="1.6" fill="#fff" stroke="#111" stroke-width="0.95"/>
<circle cx="89.35" cy="474.51" r="2.05" fill="#111"/>
<circle cx="93.05" cy="474.51" r="2.05" fill="#111"/>
<circle cx="96.75" cy="474.51" r="2.05" fill="#111"/>
<line x1="24.30" y1="484.23" x2="102.80" y2="484.23" stroke="#111" stroke-width="1.1" />
<circle cx="26.45" cy="481.68" r="1.6" fill="#fff" stroke="#111" stroke-width="0.95"/>
<circle cx="30.15" cy="481.68" r="1.6" fill="#fff" stroke="#111" stroke-width="0.95"/>
<circle cx="33.85" cy="481.68" r="1.6" fill="#fff" stroke="#111" stroke-width="0.95"/>
<circle cx="37.55" cy="481.68" r="1.6" fill="#fff" stroke="#111" stroke-width="0.95"/>
<circle cx="41.25" cy="481.68" r="1.6" fill="#fff" stroke="#111" stroke-width="0.95"/>
<circle cx="44.95" cy="481.68" r="1.6" fill="#fff" stroke="#111" stroke-width="0.95"/>
<circle cx="48.65" cy="481.68" r="1.6" fill="#fff" stroke="#111" stroke-width="0.95"/>
<circle cx="52.35" cy="481.68" r="1.6" fill="#fff" stroke="#111" stroke-width="0.95"/>
<circle cx="56.05" cy="481.68" r="1.6" fill="#fff" stroke="#111" stroke-width="0.95"/>
<circle cx="59.75" cy="481.68" r="1.6" fill="#fff" stroke="#111" stroke-width="0.95"/>
<circle cx="63.45" cy="481.68" r="1.6" fill="#fff" stroke="#111" stroke-width="0.95"/>
<circle cx="67.15" cy="481.68" r="1.6" fill="#fff" stroke="#111" stroke-width="0.95"/>
<circle cx="70.85" cy="481.68" r="1.6" fill="#fff" stroke="#111" stroke-width="0.95"/>
<circle cx="74.55" cy="481.68" r="1.6" fill="#fff" stroke="#111" stroke-width="0.95"/>
<circle cx="78.25" cy="481.68" r="1.6" fill="#fff" stroke="#111" stroke-width="0.95"/>
<circle cx="81.95" cy="481.68" r="1.6" fill="#fff" stroke="#111" stroke-width="0.95"/>
<circle cx="85.65" cy="481.68" r="1.6" fill="#fff" stroke="#111" stroke-width="0.95"/>
<circle cx="89.35" cy="481.68" r="1.6" fill="#fff" stroke="#111" stroke-width="0.95"/>
<circle cx="93.05" cy="481.68" r="2.05" fill="#111"/>
<circle cx="96.75" cy="481.68" r="2.05" fill="#111"/>
<line x1="24.30" y1="491.40" x2="102.80" y2="491.40" stroke="#111" stroke-width="1.1" />
<circle cx="26.45" cy="488.85" r="1.6" fill="#fff" stroke="#111" stroke-width="0.95"/>
<circle cx="30.15" cy="488.85" r="1.6" fill="#fff" stroke="#111" stroke-width="0.95"/>
<circle cx="33.85" cy="488.85" r="1.6" fill="#fff" stroke="#111" stroke-width="0.95"/>
<circle cx="37.55" cy="488.85" r="1.6" fill="#fff" stroke="#111" stroke-width="0.95"/>
<circle cx="41.25" cy="488.85" r="1.6" fill="#fff" stroke="#111" stroke-width="0.95"/>
<circle cx="44.95" cy="488.85" r="1.6" fill="#fff" stroke="#111" stroke-width="0.95"/>
<circle cx="48.65" cy="488.85" r="1.6" fill="#fff" stroke="#111" stroke-width="0.95"/>
<circle cx="52.35" cy="488.85" r="1.6" fill="#fff" stroke="#111" stroke-width="0.95"/>
<circle cx="56.05" cy="488.85" r="1.6" fill="#fff" stroke="#111" stroke-width="0.95"/>
<circle cx="59.75" cy="488.85" r="1.6" fill="#fff" stroke="#111" stroke-width="0.95"/>
<circle cx="63.45" cy="488.85" r="1.6" fill="#fff" stroke="#111" stroke-width="0.95"/>
<circle cx="67.15" cy="488.85" r="1.6" fill="#fff" stroke="#111" stroke-width="0.95"/>
<circle cx="70.85" cy="488.85" r="1.6" fill="#fff" stroke="#111" stroke-width="0.95"/>
<circle cx="74.55" cy="488.85" r="1.6" fill="#fff" stroke="#111" stroke-width="0.95"/>
<circle cx="78.25" cy="488.85" r="1.6" fill="#fff" stroke="#111" stroke-width="0.95"/>
<circle cx="81.95" cy="488.85" r="1.6" fill="#fff" stroke="#111" stroke-width="0.95"/>
<circle cx="85.65" cy="488.85" r="1.6" fill="#fff" stroke="#111" stroke-width="0.95"/>
<circle cx="89.35" cy="488.85" r="2.05" fill="#111"/>
<circle cx="93.05" cy="488.85" r="1.6" fill="#fff" stroke="#111" stroke-width="0.95"/>
<circle cx="96.75" cy="488.85" r="1.6" fill="#fff" stroke="#111" stroke-width="0.95"/>
<line x1="24.30" y1="498.57" x2="102.80" y2="498.57" stroke="#111" stroke-width="1.1" />
<circle cx="26.45" cy="496.02" r="1.6" fill="#fff" stroke="#111" stroke-width="0.95"/>
<circle cx="30.15" cy="496.02" r="1.6" fill="#fff" stroke="#111" stroke-width="0.95"/>
<circle cx="33.85" cy="496.02" r="1.6" fill="#fff" stroke="#111" stroke-width="0.95"/>
<circle cx="37.55" cy="496.02" r="1.6" fill="#fff" stroke="#111" stroke-width="0.95"/>
<circle cx="41.25" cy="496.02" r="1.6" fill="#fff" stroke="#111" stroke-width="0.95"/>
<circle cx="44.95" cy="496.02" r="1.6" fill="#fff" stroke="#111" stroke-width="0.95"/>
<circle cx="48.65" cy="496.02" r="1.6" fill="#fff" stroke="#111" stroke-width="0.95"/>
<circle cx="52.35" cy="496.02" r="1.6" fill="#fff" stroke="#111" stroke-width="0.95"/>
<circle cx="56.05" cy="496.02" r="1.6" fill="#fff" stroke="#111" stroke-width="0.95"/>
<circle cx="59.75" cy="496.02" r="1.6" fill="#fff" stroke="#111" stroke-width="0.95"/>
<circle cx="63.45" cy="496.02" r="1.6" fill="#fff" stroke="#111" stroke-width="0.95"/>
<circle cx="67.15" cy="496.02" r="1.6" fill="#fff" stroke="#111" stroke-width="0.95"/>
<circle cx="70.85" cy="496.02" r="1.6" fill="#fff" stroke="#111" stroke-width="0.95"/>
<circle cx="74.55" cy="496.02" r="1.6" fill="#fff" stroke="#111" stroke-width="0.95"/>
<circle cx="78.25" cy="496.02" r="1.6" fill="#fff" stroke="#111" stroke-width="0.95"/>
<circle cx="81.95" cy="496.02" r="1.6" fill="#fff" stroke="#111" stroke-width="0.95"/>
<circle cx="85.65" cy="496.02" r="1.6" fill="#fff" stroke="#111" stroke-width="0.95"/>
<circle cx="89.35" cy="496.02" r="1.6" fill="#fff" stroke="#111" stroke-width="0.95"/>
<circle cx="93.05" cy="496.02" r="1.6" fill="#fff" stroke="#111" stroke-width="0.95"/>
<circle cx="96.75" cy="496.02" r="2.05" fill="#111"/>
<line x1="24.30" y1="505.74" x2="102.80" y2="505.74" stroke="#111" stroke-width="1.1" />
<circle cx="26.45" cy="503.19" r="1.6" fill="#fff" stroke="#111" stroke-width="0.95"/>
<circle cx="30.15" cy="503.19" r="1.6" fill="#fff" stroke="#111" stroke-width="0.95"/>
<circle cx="33.85" cy="503.19" r="1.6" fill="#fff" stroke="#111" stroke-width="0.95"/>
<circle cx="37.55" cy="503.19" r="1.6" fill="#fff" stroke="#111" stroke-width="0.95"/>
<circle cx="41.25" cy="503.19" r="1.6" fill="#fff" stroke="#111" stroke-width="0.95"/>
<circle cx="44.95" cy="503.19" r="1.6" fill="#fff" stroke="#111" stroke-width="0.95"/>
<circle cx="48.65" cy="503.19" r="1.6" fill="#fff" stroke="#111" stroke-width="0.95"/>
<circle cx="52.35" cy="503.19" r="1.6" fill="#fff" stroke="#111" stroke-width="0.95"/>
<circle cx="56.05" cy="503.19" r="1.6" fill="#fff" stroke="#111" stroke-width="0.95"/>
<circle cx="59.75" cy="503.19" r="1.6" fill="#fff" stroke="#111" stroke-width="0.95"/>
<circle cx="63.45" cy="503.19" r="1.6" fill="#fff" stroke="#111" stroke-width="0.95"/>
<circle cx="67.15" cy="503.19" r="1.6" fill="#fff" stroke="#111" stroke-width="0.95"/>
<circle cx="70.85" cy="503.19" r="1.6" fill="#fff" stroke="#111" stroke-width="0.95"/>
<circle cx="74.55" cy="503.19" r="1.6" fill="#fff" stroke="#111" stroke-width="0.95"/>
<circle cx="78.25" cy="503.19" r="1.6" fill="#fff" stroke="#111" stroke-width="0.95"/>
<circle cx="81.95" cy="503.19" r="1.6" fill="#fff" stroke="#111" stroke-width="0.95"/>
<circle cx="85.65" cy="503.19" r="1.6" fill="#fff" stroke="#111" stroke-width="0.95"/>
<circle cx="89.35" cy="503.19" r="2.05" fill="#111"/>
<circle cx="93.05" cy="503.19" r="2.05" fill="#111"/>
<circle cx="96.75" cy="503.19" r="1.6" fill="#fff" stroke="#111" stroke-width="0.95"/>
<text x="12" y="524" font-size="10.5" font-weight="normal" text-anchor="start" fill="#111" >ALL-16</text>
<line x1="24.30" y1="533.30" x2="102.80" y2="533.30" stroke="#111" stroke-width="1.1" />
<circle cx="26.45" cy="530.75" r="1.6" fill="#fff" stroke="#111" stroke-width="0.95"/>
<circle cx="30.15" cy="530.75" r="1.6" fill="#fff" stroke="#111" stroke-width="0.95"/>
<circle cx="33.85" cy="530.75" r="1.6" fill="#fff" stroke="#111" stroke-width="0.95"/>
<circle cx="37.55" cy="530.75" r="1.6" fill="#fff" stroke="#111" stroke-width="0.95"/>
<circle cx="41.25" cy="530.75" r="1.6" fill="#fff" stroke="#111" stroke-width="0.95"/>
<circle cx="44.95" cy="530.75" r="1.6" fill="#fff" stroke="#111" stroke-width="0.95"/>
<circle cx="48.65" cy="530.75" r="1.6" fill="#fff" stroke="#111" stroke-width="0.95"/>
<circle cx="52.35" cy="530.75" r="1.6" fill="#fff" stroke="#111" stroke-width="0.95"/>
<circle cx="56.05" cy="530.75" r="1.6" fill="#fff" stroke="#111" stroke-width="0.95"/>
<circle cx="59.75" cy="530.75" r="1.6" fill="#fff" stroke="#111" stroke-width="0.95"/>
<circle cx="63.45" cy="530.75" r="1.6" fill="#fff" stroke="#111" stroke-width="0.95"/>
<circle cx="67.15" cy="530.75" r="1.6" fill="#fff" stroke="#111" stroke-width="0.95"/>
<circle cx="70.85" cy="530.75" r="1.6" fill="#fff" stroke="#111" stroke-width="0.95"/>
<circle cx="74.55" cy="530.75" r="1.6" fill="#fff" stroke="#111" stroke-width="0.95"/>
<circle cx="78.25" cy="530.75" r="1.6" fill="#fff" stroke="#111" stroke-width="0.95"/>
<circle cx="81.95" cy="530.75" r="1.6" fill="#fff" stroke="#111" stroke-width="0.95"/>
<circle cx="85.65" cy="530.75" r="2.05" fill="#111"/>
<circle cx="89.35" cy="530.75" r="2.05" fill="#111"/>
<circle cx="93.05" cy="530.75" r="1.6" fill="#fff" stroke="#111" stroke-width="0.95"/>
<circle cx="96.75" cy="530.75" r="2.05" fill="#111"/>
<line x1="24.30" y1="540.80" x2="102.80" y2="540.80" stroke="#111" stroke-width="1.1" />
<circle cx="26.45" cy="538.25" r="1.6" fill="#fff" stroke="#111" stroke-width="0.95"/>
<circle cx="30.15" cy="538.25" r="1.6" fill="#fff" stroke="#111" stroke-width="0.95"/>
<circle cx="33.85" cy="538.25" r="1.6" fill="#fff" stroke="#111" stroke-width="0.95"/>
<circle cx="37.55" cy="538.25" r="1.6" fill="#fff" stroke="#111" stroke-width="0.95"/>
<circle cx="41.25" cy="538.25" r="2.05" fill="#111"/>
<circle cx="44.95" cy="538.25" r="2.05" fill="#111"/>
<circle cx="48.65" cy="538.25" r="2.05" fill="#111"/>
<circle cx="52.35" cy="538.25" r="2.05" fill="#111"/>
<circle cx="56.05" cy="538.25" r="2.05" fill="#111"/>
<circle cx="59.75" cy="538.25" r="2.05" fill="#111"/>
<circle cx="63.45" cy="538.25" r="2.05" fill="#111"/>
<circle cx="67.15" cy="538.25" r="2.05" fill="#111"/>
<circle cx="70.85" cy="538.25" r="1.6" fill="#fff" stroke="#111" stroke-width="0.95"/>
<circle cx="74.55" cy="538.25" r="2.05" fill="#111"/>
<line x1="24.30" y1="548.30" x2="102.80" y2="548.30" stroke="#111" stroke-width="1.1" />
<circle cx="26.45" cy="545.75" r="1.6" fill="#fff" stroke="#111" stroke-width="0.95"/>
<circle cx="30.15" cy="545.75" r="1.6" fill="#fff" stroke="#111" stroke-width="0.95"/>
<circle cx="33.85" cy="545.75" r="1.6" fill="#fff" stroke="#111" stroke-width="0.95"/>
<circle cx="37.55" cy="545.75" r="1.6" fill="#fff" stroke="#111" stroke-width="0.95"/>
<circle cx="41.25" cy="545.75" r="1.6" fill="#fff" stroke="#111" stroke-width="0.95"/>
<circle cx="44.95" cy="545.75" r="1.6" fill="#fff" stroke="#111" stroke-width="0.95"/>
<circle cx="48.65" cy="545.75" r="1.6" fill="#fff" stroke="#111" stroke-width="0.95"/>
<circle cx="52.35" cy="545.75" r="1.6" fill="#fff" stroke="#111" stroke-width="0.95"/>
<circle cx="56.05" cy="545.75" r="1.6" fill="#fff" stroke="#111" stroke-width="0.95"/>
<circle cx="59.75" cy="545.75" r="1.6" fill="#fff" stroke="#111" stroke-width="0.95"/>
<circle cx="63.45" cy="545.75" r="1.6" fill="#fff" stroke="#111" stroke-width="0.95"/>
<circle cx="67.15" cy="545.75" r="1.6" fill="#fff" stroke="#111" stroke-width="0.95"/>
<circle cx="70.85" cy="545.75" r="1.6" fill="#fff" stroke="#111" stroke-width="0.95"/>
<circle cx="74.55" cy="545.75" r="1.6" fill="#fff" stroke="#111" stroke-width="0.95"/>
<circle cx="78.25" cy="545.75" r="1.6" fill="#fff" stroke="#111" stroke-width="0.95"/>
<circle cx="81.95" cy="545.75" r="2.05" fill="#111"/>
<circle cx="85.65" cy="545.75" r="1.6" fill="#fff" stroke="#111" stroke-width="0.95"/>
<circle cx="89.35" cy="545.75" r="2.05" fill="#111"/>
<circle cx="93.05" cy="545.75" r="2.05" fill="#111"/>
<circle cx="96.75" cy="545.75" r="2.05" fill="#111"/>
<line x1="24.30" y1="555.80" x2="102.80" y2="555.80" stroke="#111" stroke-width="1.1" />
<circle cx="26.45" cy="553.25" r="1.6" fill="#fff" stroke="#111" stroke-width="0.95"/>
<circle cx="30.15" cy="553.25" r="1.6" fill="#fff" stroke="#111" stroke-width="0.95"/>
<circle cx="33.85" cy="553.25" r="1.6" fill="#fff" stroke="#111" stroke-width="0.95"/>
<circle cx="37.55" cy="553.25" r="1.6" fill="#fff" stroke="#111" stroke-width="0.95"/>
<circle cx="41.25" cy="553.25" r="1.6" fill="#fff" stroke="#111" stroke-width="0.95"/>
<circle cx="44.95" cy="553.25" r="1.6" fill="#fff" stroke="#111" stroke-width="0.95"/>
<circle cx="48.65" cy="553.25" r="1.6" fill="#fff" stroke="#111" stroke-width="0.95"/>
<circle cx="52.35" cy="553.25" r="1.6" fill="#fff" stroke="#111" stroke-width="0.95"/>
<circle cx="56.05" cy="553.25" r="1.6" fill="#fff" stroke="#111" stroke-width="0.95"/>
<circle cx="59.75" cy="553.25" r="1.6" fill="#fff" stroke="#111" stroke-width="0.95"/>
<circle cx="63.45" cy="553.25" r="1.6" fill="#fff" stroke="#111" stroke-width="0.95"/>
<circle cx="67.15" cy="553.25" r="1.6" fill="#fff" stroke="#111" stroke-width="0.95"/>
<circle cx="70.85" cy="553.25" r="1.6" fill="#fff" stroke="#111" stroke-width="0.95"/>
<circle cx="74.55" cy="553.25" r="1.6" fill="#fff" stroke="#111" stroke-width="0.95"/>
<circle cx="78.25" cy="553.25" r="1.6" fill="#fff" stroke="#111" stroke-width="0.95"/>
<circle cx="81.95" cy="553.25" r="1.6" fill="#fff" stroke="#111" stroke-width="0.95"/>
<circle cx="85.65" cy="553.25" r="2.05" fill="#111"/>
<circle cx="89.35" cy="553.25" r="2.05" fill="#111"/>
<circle cx="93.05" cy="553.25" r="1.6" fill="#fff" stroke="#111" stroke-width="0.95"/>
<circle cx="96.75" cy="553.25" r="2.05" fill="#111"/>
<line x1="24.30" y1="563.30" x2="102.80" y2="563.30" stroke="#111" stroke-width="1.1" />
<circle cx="26.45" cy="560.75" r="1.6" fill="#fff" stroke="#111" stroke-width="0.95"/>
<circle cx="30.15" cy="560.75" r="1.6" fill="#fff" stroke="#111" stroke-width="0.95"/>
<circle cx="33.85" cy="560.75" r="1.6" fill="#fff" stroke="#111" stroke-width="0.95"/>
<circle cx="37.55" cy="560.75" r="1.6" fill="#fff" stroke="#111" stroke-width="0.95"/>
<circle cx="41.25" cy="560.75" r="2.05" fill="#111"/>
<circle cx="44.95" cy="560.75" r="2.05" fill="#111"/>
<circle cx="48.65" cy="560.75" r="2.05" fill="#111"/>
<circle cx="52.35" cy="560.75" r="2.05" fill="#111"/>
<circle cx="56.05" cy="560.75" r="2.05" fill="#111"/>
<circle cx="59.75" cy="560.75" r="2.05" fill="#111"/>
<circle cx="63.45" cy="560.75" r="2.05" fill="#111"/>
<circle cx="67.15" cy="560.75" r="2.05" fill="#111"/>
<circle cx="70.85" cy="560.75" r="1.6" fill="#fff" stroke="#111" stroke-width="0.95"/>
<circle cx="74.55" cy="560.75" r="2.05" fill="#111"/>
<circle cx="78.25" cy="560.75" r="2.05" fill="#111"/>
<circle cx="81.95" cy="560.75" r="2.05" fill="#111"/>
<circle cx="85.65" cy="560.75" r="2.05" fill="#111"/>
<circle cx="89.35" cy="560.75" r="2.05" fill="#111"/>
<circle cx="93.05" cy="560.75" r="2.05" fill="#111"/>
<circle cx="96.75" cy="560.75" r="2.05" fill="#111"/>
<line x1="24.30" y1="570.80" x2="102.80" y2="570.80" stroke="#111" stroke-width="1.1" />
<circle cx="26.45" cy="568.25" r="1.6" fill="#fff" stroke="#111" stroke-width="0.95"/>
<circle cx="30.15" cy="568.25" r="1.6" fill="#fff" stroke="#111" stroke-width="0.95"/>
<circle cx="33.85" cy="568.25" r="1.6" fill="#fff" stroke="#111" stroke-width="0.95"/>
<circle cx="37.55" cy="568.25" r="1.6" fill="#fff" stroke="#111" stroke-width="0.95"/>
<circle cx="41.25" cy="568.25" r="2.05" fill="#111"/>
<circle cx="44.95" cy="568.25" r="2.05" fill="#111"/>
<circle cx="48.65" cy="568.25" r="2.05" fill="#111"/>
<circle cx="52.35" cy="568.25" r="2.05" fill="#111"/>
<circle cx="56.05" cy="568.25" r="2.05" fill="#111"/>
<circle cx="59.75" cy="568.25" r="2.05" fill="#111"/>
<circle cx="63.45" cy="568.25" r="2.05" fill="#111"/>
<circle cx="67.15" cy="568.25" r="2.05" fill="#111"/>
<circle cx="70.85" cy="568.25" r="1.6" fill="#fff" stroke="#111" stroke-width="0.95"/>
<circle cx="74.55" cy="568.25" r="2.05" fill="#111"/>
<circle cx="78.25" cy="568.25" r="2.05" fill="#111"/>
<circle cx="81.95" cy="568.25" r="2.05" fill="#111"/>
<circle cx="85.65" cy="568.25" r="2.05" fill="#111"/>
<circle cx="89.35" cy="568.25" r="2.05" fill="#111"/>
<circle cx="93.05" cy="568.25" r="2.05" fill="#111"/>
<circle cx="96.75" cy="568.25" r="2.05" fill="#111"/>
<text x="126.3" y="372.5" font-size="10.5" font-weight="normal" text-anchor="start" fill="#111" >ALL-2</text>
<line x1="138.20" y1="380.55" x2="216.10" y2="380.55" stroke="#111" stroke-width="1.1" />
<circle cx="140.35" cy="378.00" r="1.6" fill="#fff" stroke="#111" stroke-width="0.95"/>
<circle cx="144.05" cy="378.00" r="1.6" fill="#fff" stroke="#111" stroke-width="0.95"/>
<circle cx="147.75" cy="378.00" r="1.6" fill="#fff" stroke="#111" stroke-width="0.95"/>
<circle cx="151.45" cy="378.00" r="1.6" fill="#fff" stroke="#111" stroke-width="0.95"/>
<circle cx="155.15" cy="378.00" r="1.6" fill="#fff" stroke="#111" stroke-width="0.95"/>
<circle cx="158.85" cy="378.00" r="1.6" fill="#fff" stroke="#111" stroke-width="0.95"/>
<circle cx="162.55" cy="378.00" r="1.6" fill="#fff" stroke="#111" stroke-width="0.95"/>
<circle cx="166.25" cy="378.00" r="1.6" fill="#fff" stroke="#111" stroke-width="0.95"/>
<circle cx="169.95" cy="378.00" r="1.6" fill="#fff" stroke="#111" stroke-width="0.95"/>
<circle cx="173.65" cy="378.00" r="1.6" fill="#fff" stroke="#111" stroke-width="0.95"/>
<circle cx="177.35" cy="378.00" r="1.6" fill="#fff" stroke="#111" stroke-width="0.95"/>
<circle cx="181.05" cy="378.00" r="1.6" fill="#fff" stroke="#111" stroke-width="0.95"/>
<circle cx="184.75" cy="378.00" r="1.6" fill="#fff" stroke="#111" stroke-width="0.95"/>
<circle cx="188.45" cy="378.00" r="1.6" fill="#fff" stroke="#111" stroke-width="0.95"/>
<circle cx="192.15" cy="378.00" r="1.6" fill="#fff" stroke="#111" stroke-width="0.95"/>
<circle cx="195.85" cy="378.00" r="1.6" fill="#fff" stroke="#111" stroke-width="0.95"/>
<circle cx="199.55" cy="378.00" r="1.6" fill="#fff" stroke="#111" stroke-width="0.95"/>
<circle cx="203.25" cy="378.00" r="2.05" fill="#111"/>
<circle cx="206.95" cy="378.00" r="2.05" fill="#111"/>
<circle cx="210.65" cy="378.00" r="2.05" fill="#111"/>
<line x1="138.20" y1="387.75" x2="216.10" y2="387.75" stroke="#111" stroke-width="1.1" />
<circle cx="140.35" cy="385.20" r="1.6" fill="#fff" stroke="#111" stroke-width="0.95"/>
<circle cx="144.05" cy="385.20" r="1.6" fill="#fff" stroke="#111" stroke-width="0.95"/>
<circle cx="147.75" cy="385.20" r="1.6" fill="#fff" stroke="#111" stroke-width="0.95"/>
<circle cx="151.45" cy="385.20" r="1.6" fill="#fff" stroke="#111" stroke-width="0.95"/>
<circle cx="155.15" cy="385.20" r="1.6" fill="#fff" stroke="#111" stroke-width="0.95"/>
<circle cx="158.85" cy="385.20" r="1.6" fill="#fff" stroke="#111" stroke-width="0.95"/>
<circle cx="162.55" cy="385.20" r="1.6" fill="#fff" stroke="#111" stroke-width="0.95"/>
<circle cx="166.25" cy="385.20" r="1.6" fill="#fff" stroke="#111" stroke-width="0.95"/>
<circle cx="169.95" cy="385.20" r="1.6" fill="#fff" stroke="#111" stroke-width="0.95"/>
<circle cx="173.65" cy="385.20" r="1.6" fill="#fff" stroke="#111" stroke-width="0.95"/>
<circle cx="177.35" cy="385.20" r="1.6" fill="#fff" stroke="#111" stroke-width="0.95"/>
<circle cx="181.05" cy="385.20" r="1.6" fill="#fff" stroke="#111" stroke-width="0.95"/>
<circle cx="184.75" cy="385.20" r="1.6" fill="#fff" stroke="#111" stroke-width="0.95"/>
<circle cx="188.45" cy="385.20" r="1.6" fill="#fff" stroke="#111" stroke-width="0.95"/>
<circle cx="192.15" cy="385.20" r="1.6" fill="#fff" stroke="#111" stroke-width="0.95"/>
<circle cx="195.85" cy="385.20" r="1.6" fill="#fff" stroke="#111" stroke-width="0.95"/>
<circle cx="199.55" cy="385.20" r="1.6" fill="#fff" stroke="#111" stroke-width="0.95"/>
<circle cx="203.25" cy="385.20" r="2.05" fill="#111"/>
<circle cx="206.95" cy="385.20" r="2.05" fill="#111"/>
<circle cx="210.65" cy="385.20" r="2.05" fill="#111"/>
<line x1="138.20" y1="394.95" x2="216.10" y2="394.95" stroke="#111" stroke-width="1.1" />
<circle cx="140.35" cy="392.40" r="1.6" fill="#fff" stroke="#111" stroke-width="0.95"/>
<circle cx="144.05" cy="392.40" r="1.6" fill="#fff" stroke="#111" stroke-width="0.95"/>
<circle cx="147.75" cy="392.40" r="1.6" fill="#fff" stroke="#111" stroke-width="0.95"/>
<circle cx="151.45" cy="392.40" r="1.6" fill="#fff" stroke="#111" stroke-width="0.95"/>
<circle cx="155.15" cy="392.40" r="1.6" fill="#fff" stroke="#111" stroke-width="0.95"/>
<circle cx="158.85" cy="392.40" r="1.6" fill="#fff" stroke="#111" stroke-width="0.95"/>
<circle cx="162.55" cy="392.40" r="1.6" fill="#fff" stroke="#111" stroke-width="0.95"/>
<circle cx="166.25" cy="392.40" r="1.6" fill="#fff" stroke="#111" stroke-width="0.95"/>
<circle cx="169.95" cy="392.40" r="1.6" fill="#fff" stroke="#111" stroke-width="0.95"/>
<circle cx="173.65" cy="392.40" r="1.6" fill="#fff" stroke="#111" stroke-width="0.95"/>
<circle cx="177.35" cy="392.40" r="1.6" fill="#fff" stroke="#111" stroke-width="0.95"/>
<circle cx="181.05" cy="392.40" r="1.6" fill="#fff" stroke="#111" stroke-width="0.95"/>
<circle cx="184.75" cy="392.40" r="1.6" fill="#fff" stroke="#111" stroke-width="0.95"/>
<circle cx="188.45" cy="392.40" r="1.6" fill="#fff" stroke="#111" stroke-width="0.95"/>
<circle cx="192.15" cy="392.40" r="1.6" fill="#fff" stroke="#111" stroke-width="0.95"/>
<circle cx="195.85" cy="392.40" r="1.6" fill="#fff" stroke="#111" stroke-width="0.95"/>
<circle cx="199.55" cy="392.40" r="1.6" fill="#fff" stroke="#111" stroke-width="0.95"/>
<circle cx="203.25" cy="392.40" r="2.05" fill="#111"/>
<circle cx="206.95" cy="392.40" r="2.05" fill="#111"/>
<circle cx="210.65" cy="392.40" r="2.05" fill="#111"/>
<line x1="138.20" y1="402.15" x2="216.10" y2="402.15" stroke="#111" stroke-width="1.1" />
<circle cx="140.35" cy="399.60" r="1.6" fill="#fff" stroke="#111" stroke-width="0.95"/>
<circle cx="144.05" cy="399.60" r="1.6" fill="#fff" stroke="#111" stroke-width="0.95"/>
<circle cx="147.75" cy="399.60" r="1.6" fill="#fff" stroke="#111" stroke-width="0.95"/>
<circle cx="151.45" cy="399.60" r="1.6" fill="#fff" stroke="#111" stroke-width="0.95"/>
<circle cx="155.15" cy="399.60" r="1.6" fill="#fff" stroke="#111" stroke-width="0.95"/>
<circle cx="158.85" cy="399.60" r="1.6" fill="#fff" stroke="#111" stroke-width="0.95"/>
<circle cx="162.55" cy="399.60" r="1.6" fill="#fff" stroke="#111" stroke-width="0.95"/>
<circle cx="166.25" cy="399.60" r="1.6" fill="#fff" stroke="#111" stroke-width="0.95"/>
<circle cx="169.95" cy="399.60" r="1.6" fill="#fff" stroke="#111" stroke-width="0.95"/>
<circle cx="173.65" cy="399.60" r="1.6" fill="#fff" stroke="#111" stroke-width="0.95"/>
<circle cx="177.35" cy="399.60" r="1.6" fill="#fff" stroke="#111" stroke-width="0.95"/>
<circle cx="181.05" cy="399.60" r="1.6" fill="#fff" stroke="#111" stroke-width="0.95"/>
<circle cx="184.75" cy="399.60" r="1.6" fill="#fff" stroke="#111" stroke-width="0.95"/>
<circle cx="188.45" cy="399.60" r="1.6" fill="#fff" stroke="#111" stroke-width="0.95"/>
<circle cx="192.15" cy="399.60" r="2.05" fill="#111"/>
<circle cx="195.85" cy="399.60" r="1.6" fill="#fff" stroke="#111" stroke-width="0.95"/>
<circle cx="199.55" cy="399.60" r="1.6" fill="#fff" stroke="#111" stroke-width="0.95"/>
<circle cx="203.25" cy="399.60" r="2.05" fill="#111"/>
<circle cx="206.95" cy="399.60" r="2.05" fill="#111"/>
<circle cx="210.65" cy="399.60" r="2.05" fill="#111"/>
<line x1="138.20" y1="409.35" x2="216.10" y2="409.35" stroke="#111" stroke-width="1.1" />
<circle cx="140.35" cy="406.80" r="1.6" fill="#fff" stroke="#111" stroke-width="0.95"/>
<circle cx="144.05" cy="406.80" r="1.6" fill="#fff" stroke="#111" stroke-width="0.95"/>
<circle cx="147.75" cy="406.80" r="1.6" fill="#fff" stroke="#111" stroke-width="0.95"/>
<circle cx="151.45" cy="406.80" r="1.6" fill="#fff" stroke="#111" stroke-width="0.95"/>
<circle cx="155.15" cy="406.80" r="1.6" fill="#fff" stroke="#111" stroke-width="0.95"/>
<circle cx="158.85" cy="406.80" r="1.6" fill="#fff" stroke="#111" stroke-width="0.95"/>
<circle cx="162.55" cy="406.80" r="1.6" fill="#fff" stroke="#111" stroke-width="0.95"/>
<circle cx="166.25" cy="406.80" r="1.6" fill="#fff" stroke="#111" stroke-width="0.95"/>
<circle cx="169.95" cy="406.80" r="1.6" fill="#fff" stroke="#111" stroke-width="0.95"/>
<circle cx="173.65" cy="406.80" r="1.6" fill="#fff" stroke="#111" stroke-width="0.95"/>
<circle cx="177.35" cy="406.80" r="1.6" fill="#fff" stroke="#111" stroke-width="0.95"/>
<circle cx="181.05" cy="406.80" r="1.6" fill="#fff" stroke="#111" stroke-width="0.95"/>
<circle cx="184.75" cy="406.80" r="1.6" fill="#fff" stroke="#111" stroke-width="0.95"/>
<circle cx="188.45" cy="406.80" r="1.6" fill="#fff" stroke="#111" stroke-width="0.95"/>
<circle cx="192.15" cy="406.80" r="1.6" fill="#fff" stroke="#111" stroke-width="0.95"/>
<circle cx="195.85" cy="406.80" r="1.6" fill="#fff" stroke="#111" stroke-width="0.95"/>
<circle cx="199.55" cy="406.80" r="1.6" fill="#fff" stroke="#111" stroke-width="0.95"/>
<circle cx="203.25" cy="406.80" r="2.05" fill="#111"/>
<circle cx="206.95" cy="406.80" r="2.05" fill="#111"/>
<circle cx="210.65" cy="406.80" r="2.05" fill="#111"/>
<line x1="138.20" y1="416.55" x2="216.10" y2="416.55" stroke="#111" stroke-width="1.1" />
<circle cx="140.35" cy="414.00" r="1.6" fill="#fff" stroke="#111" stroke-width="0.95"/>
<circle cx="144.05" cy="414.00" r="1.6" fill="#fff" stroke="#111" stroke-width="0.95"/>
<circle cx="147.75" cy="414.00" r="1.6" fill="#fff" stroke="#111" stroke-width="0.95"/>
<circle cx="151.45" cy="414.00" r="1.6" fill="#fff" stroke="#111" stroke-width="0.95"/>
<circle cx="155.15" cy="414.00" r="1.6" fill="#fff" stroke="#111" stroke-width="0.95"/>
<circle cx="158.85" cy="414.00" r="1.6" fill="#fff" stroke="#111" stroke-width="0.95"/>
<circle cx="162.55" cy="414.00" r="1.6" fill="#fff" stroke="#111" stroke-width="0.95"/>
<circle cx="166.25" cy="414.00" r="1.6" fill="#fff" stroke="#111" stroke-width="0.95"/>
<circle cx="169.95" cy="414.00" r="1.6" fill="#fff" stroke="#111" stroke-width="0.95"/>
<circle cx="173.65" cy="414.00" r="1.6" fill="#fff" stroke="#111" stroke-width="0.95"/>
<circle cx="177.35" cy="414.00" r="1.6" fill="#fff" stroke="#111" stroke-width="0.95"/>
<circle cx="181.05" cy="414.00" r="1.6" fill="#fff" stroke="#111" stroke-width="0.95"/>
<circle cx="184.75" cy="414.00" r="1.6" fill="#fff" stroke="#111" stroke-width="0.95"/>
<circle cx="188.45" cy="414.00" r="1.6" fill="#fff" stroke="#111" stroke-width="0.95"/>
<circle cx="192.15" cy="414.00" r="1.6" fill="#fff" stroke="#111" stroke-width="0.95"/>
<circle cx="195.85" cy="414.00" r="1.6" fill="#fff" stroke="#111" stroke-width="0.95"/>
<circle cx="199.55" cy="414.00" r="1.6" fill="#fff" stroke="#111" stroke-width="0.95"/>
<circle cx="203.25" cy="414.00" r="2.05" fill="#111"/>
<circle cx="206.95" cy="414.00" r="2.05" fill="#111"/>
<circle cx="210.65" cy="414.00" r="2.05" fill="#111"/>
<line x1="138.20" y1="423.75" x2="216.10" y2="423.75" stroke="#111" stroke-width="1.1" />
<circle cx="140.35" cy="421.20" r="1.6" fill="#fff" stroke="#111" stroke-width="0.95"/>
<circle cx="144.05" cy="421.20" r="1.6" fill="#fff" stroke="#111" stroke-width="0.95"/>
<circle cx="147.75" cy="421.20" r="1.6" fill="#fff" stroke="#111" stroke-width="0.95"/>
<circle cx="151.45" cy="421.20" r="1.6" fill="#fff" stroke="#111" stroke-width="0.95"/>
<circle cx="155.15" cy="421.20" r="1.6" fill="#fff" stroke="#111" stroke-width="0.95"/>
<circle cx="158.85" cy="421.20" r="1.6" fill="#fff" stroke="#111" stroke-width="0.95"/>
<circle cx="162.55" cy="421.20" r="1.6" fill="#fff" stroke="#111" stroke-width="0.95"/>
<circle cx="166.25" cy="421.20" r="1.6" fill="#fff" stroke="#111" stroke-width="0.95"/>
<circle cx="169.95" cy="421.20" r="1.6" fill="#fff" stroke="#111" stroke-width="0.95"/>
<circle cx="173.65" cy="421.20" r="1.6" fill="#fff" stroke="#111" stroke-width="0.95"/>
<circle cx="177.35" cy="421.20" r="1.6" fill="#fff" stroke="#111" stroke-width="0.95"/>
<circle cx="181.05" cy="421.20" r="1.6" fill="#fff" stroke="#111" stroke-width="0.95"/>
<circle cx="184.75" cy="421.20" r="1.6" fill="#fff" stroke="#111" stroke-width="0.95"/>
<circle cx="188.45" cy="421.20" r="1.6" fill="#fff" stroke="#111" stroke-width="0.95"/>
<circle cx="192.15" cy="421.20" r="1.6" fill="#fff" stroke="#111" stroke-width="0.95"/>
<circle cx="195.85" cy="421.20" r="1.6" fill="#fff" stroke="#111" stroke-width="0.95"/>
<circle cx="199.55" cy="421.20" r="1.6" fill="#fff" stroke="#111" stroke-width="0.95"/>
<circle cx="203.25" cy="421.20" r="2.05" fill="#111"/>
<circle cx="206.95" cy="421.20" r="2.05" fill="#111"/>
<circle cx="210.65" cy="421.20" r="2.05" fill="#111"/>
<line x1="138.20" y1="430.95" x2="216.10" y2="430.95" stroke="#111" stroke-width="1.1" />
<circle cx="140.35" cy="428.40" r="1.6" fill="#fff" stroke="#111" stroke-width="0.95"/>
<circle cx="144.05" cy="428.40" r="1.6" fill="#fff" stroke="#111" stroke-width="0.95"/>
<circle cx="147.75" cy="428.40" r="1.6" fill="#fff" stroke="#111" stroke-width="0.95"/>
<circle cx="151.45" cy="428.40" r="2.05" fill="#111"/>
<circle cx="155.15" cy="428.40" r="1.6" fill="#fff" stroke="#111" stroke-width="0.95"/>
<circle cx="158.85" cy="428.40" r="2.05" fill="#111"/>
<circle cx="162.55" cy="428.40" r="1.6" fill="#fff" stroke="#111" stroke-width="0.95"/>
<circle cx="166.25" cy="428.40" r="1.6" fill="#fff" stroke="#111" stroke-width="0.95"/>
<circle cx="169.95" cy="428.40" r="1.6" fill="#fff" stroke="#111" stroke-width="0.95"/>
<circle cx="173.65" cy="428.40" r="1.6" fill="#fff" stroke="#111" stroke-width="0.95"/>
<circle cx="177.35" cy="428.40" r="1.6" fill="#fff" stroke="#111" stroke-width="0.95"/>
<circle cx="181.05" cy="428.40" r="1.6" fill="#fff" stroke="#111" stroke-width="0.95"/>
<circle cx="184.75" cy="428.40" r="1.6" fill="#fff" stroke="#111" stroke-width="0.95"/>
<circle cx="188.45" cy="428.40" r="1.6" fill="#fff" stroke="#111" stroke-width="0.95"/>
<circle cx="192.15" cy="428.40" r="1.6" fill="#fff" stroke="#111" stroke-width="0.95"/>
<circle cx="195.85" cy="428.40" r="1.6" fill="#fff" stroke="#111" stroke-width="0.95"/>
<circle cx="199.55" cy="428.40" r="1.6" fill="#fff" stroke="#111" stroke-width="0.95"/>
<circle cx="203.25" cy="428.40" r="2.05" fill="#111"/>
<circle cx="206.95" cy="428.40" r="2.05" fill="#111"/>
<circle cx="210.65" cy="428.40" r="2.05" fill="#111"/>
<text x="126.3" y="448.5" font-size="10.5" font-weight="normal" text-anchor="start" fill="#111" >ALL-10</text>
<line x1="138.20" y1="455.35" x2="216.10" y2="455.35" stroke="#111" stroke-width="1.1" />
<circle cx="140.35" cy="452.80" r="1.6" fill="#fff" stroke="#111" stroke-width="0.95"/>
<circle cx="144.05" cy="452.80" r="2.05" fill="#111"/>
<circle cx="147.75" cy="452.80" r="2.05" fill="#111"/>
<circle cx="151.45" cy="452.80" r="2.05" fill="#111"/>
<circle cx="155.15" cy="452.80" r="2.05" fill="#111"/>
<circle cx="158.85" cy="452.80" r="2.05" fill="#111"/>
<circle cx="162.55" cy="452.80" r="2.05" fill="#111"/>
<circle cx="166.25" cy="452.80" r="2.05" fill="#111"/>
<circle cx="169.95" cy="452.80" r="2.05" fill="#111"/>
<circle cx="173.65" cy="452.80" r="1.6" fill="#fff" stroke="#111" stroke-width="0.95"/>
<circle cx="177.35" cy="452.80" r="2.05" fill="#111"/>
<circle cx="181.05" cy="452.80" r="2.05" fill="#111"/>
<circle cx="184.75" cy="452.80" r="1.6" fill="#fff" stroke="#111" stroke-width="0.95"/>
<circle cx="188.45" cy="452.80" r="2.05" fill="#111"/>
<circle cx="192.15" cy="452.80" r="2.05" fill="#111"/>
<circle cx="195.85" cy="452.80" r="2.05" fill="#111"/>
<circle cx="199.55" cy="452.80" r="2.05" fill="#111"/>
<circle cx="203.25" cy="452.80" r="2.05" fill="#111"/>
<circle cx="206.95" cy="452.80" r="2.05" fill="#111"/>
<circle cx="210.65" cy="452.80" r="2.05" fill="#111"/>
<line x1="138.20" y1="461.98" x2="216.10" y2="461.98" stroke="#111" stroke-width="1.1" />
<circle cx="140.35" cy="459.43" r="1.6" fill="#fff" stroke="#111" stroke-width="0.95"/>
<circle cx="144.05" cy="459.43" r="2.05" fill="#111"/>
<circle cx="147.75" cy="459.43" r="2.05" fill="#111"/>
<circle cx="151.45" cy="459.43" r="2.05" fill="#111"/>
<circle cx="155.15" cy="459.43" r="2.05" fill="#111"/>
<circle cx="158.85" cy="459.43" r="2.05" fill="#111"/>
<circle cx="162.55" cy="459.43" r="2.05" fill="#111"/>
<circle cx="166.25" cy="459.43" r="2.05" fill="#111"/>
<circle cx="169.95" cy="459.43" r="2.05" fill="#111"/>
<circle cx="173.65" cy="459.43" r="1.6" fill="#fff" stroke="#111" stroke-width="0.95"/>
<circle cx="177.35" cy="459.43" r="2.05" fill="#111"/>
<circle cx="181.05" cy="459.43" r="2.05" fill="#111"/>
<circle cx="184.75" cy="459.43" r="1.6" fill="#fff" stroke="#111" stroke-width="0.95"/>
<circle cx="188.45" cy="459.43" r="2.05" fill="#111"/>
<circle cx="192.15" cy="459.43" r="2.05" fill="#111"/>
<circle cx="195.85" cy="459.43" r="2.05" fill="#111"/>
<circle cx="199.55" cy="459.43" r="2.05" fill="#111"/>
<circle cx="203.25" cy="459.43" r="2.05" fill="#111"/>
<circle cx="206.95" cy="459.43" r="2.05" fill="#111"/>
<circle cx="210.65" cy="459.43" r="2.05" fill="#111"/>
<line x1="138.20" y1="468.61" x2="216.10" y2="468.61" stroke="#111" stroke-width="1.1" />
<circle cx="140.35" cy="466.06" r="1.6" fill="#fff" stroke="#111" stroke-width="0.95"/>
<circle cx="144.05" cy="466.06" r="2.05" fill="#111"/>
<circle cx="147.75" cy="466.06" r="2.05" fill="#111"/>
<circle cx="151.45" cy="466.06" r="2.05" fill="#111"/>
<circle cx="155.15" cy="466.06" r="2.05" fill="#111"/>
<circle cx="158.85" cy="466.06" r="2.05" fill="#111"/>
<circle cx="162.55" cy="466.06" r="2.05" fill="#111"/>
<circle cx="166.25" cy="466.06" r="2.05" fill="#111"/>
<circle cx="169.95" cy="466.06" r="2.05" fill="#111"/>
<circle cx="173.65" cy="466.06" r="1.6" fill="#fff" stroke="#111" stroke-width="0.95"/>
<circle cx="177.35" cy="466.06" r="2.05" fill="#111"/>
<circle cx="181.05" cy="466.06" r="2.05" fill="#111"/>
<circle cx="184.75" cy="466.06" r="1.6" fill="#fff" stroke="#111" stroke-width="0.95"/>
<circle cx="188.45" cy="466.06" r="2.05" fill="#111"/>
<circle cx="192.15" cy="466.06" r="2.05" fill="#111"/>
<circle cx="195.85" cy="466.06" r="2.05" fill="#111"/>
<circle cx="199.55" cy="466.06" r="2.05" fill="#111"/>
<circle cx="203.25" cy="466.06" r="2.05" fill="#111"/>
<circle cx="206.95" cy="466.06" r="2.05" fill="#111"/>
<circle cx="210.65" cy="466.06" r="2.05" fill="#111"/>
<line x1="138.20" y1="475.24" x2="216.10" y2="475.24" stroke="#111" stroke-width="1.1" />
<circle cx="140.35" cy="472.69" r="1.6" fill="#fff" stroke="#111" stroke-width="0.95"/>
<circle cx="144.05" cy="472.69" r="2.05" fill="#111"/>
<circle cx="147.75" cy="472.69" r="2.05" fill="#111"/>
<circle cx="151.45" cy="472.69" r="2.05" fill="#111"/>
<circle cx="155.15" cy="472.69" r="2.05" fill="#111"/>
<circle cx="158.85" cy="472.69" r="2.05" fill="#111"/>
<circle cx="162.55" cy="472.69" r="2.05" fill="#111"/>
<circle cx="166.25" cy="472.69" r="2.05" fill="#111"/>
<circle cx="169.95" cy="472.69" r="2.05" fill="#111"/>
<circle cx="173.65" cy="472.69" r="1.6" fill="#fff" stroke="#111" stroke-width="0.95"/>
<circle cx="177.35" cy="472.69" r="2.05" fill="#111"/>
<circle cx="181.05" cy="472.69" r="2.05" fill="#111"/>
<circle cx="184.75" cy="472.69" r="1.6" fill="#fff" stroke="#111" stroke-width="0.95"/>
<circle cx="188.45" cy="472.69" r="2.05" fill="#111"/>
<circle cx="192.15" cy="472.69" r="2.05" fill="#111"/>
<circle cx="195.85" cy="472.69" r="2.05" fill="#111"/>
<circle cx="199.55" cy="472.69" r="2.05" fill="#111"/>
<circle cx="203.25" cy="472.69" r="2.05" fill="#111"/>
<circle cx="206.95" cy="472.69" r="2.05" fill="#111"/>
<circle cx="210.65" cy="472.69" r="2.05" fill="#111"/>
<line x1="138.20" y1="481.87" x2="216.10" y2="481.87" stroke="#111" stroke-width="1.1" />
<circle cx="140.35" cy="479.32" r="1.6" fill="#fff" stroke="#111" stroke-width="0.95"/>
<circle cx="144.05" cy="479.32" r="2.05" fill="#111"/>
<circle cx="147.75" cy="479.32" r="2.05" fill="#111"/>
<circle cx="151.45" cy="479.32" r="2.05" fill="#111"/>
<circle cx="155.15" cy="479.32" r="2.05" fill="#111"/>
<circle cx="158.85" cy="479.32" r="2.05" fill="#111"/>
<circle cx="162.55" cy="479.32" r="2.05" fill="#111"/>
<circle cx="166.25" cy="479.32" r="2.05" fill="#111"/>
<circle cx="169.95" cy="479.32" r="2.05" fill="#111"/>
<circle cx="173.65" cy="479.32" r="2.05" fill="#111"/>
<circle cx="177.35" cy="479.32" r="2.05" fill="#111"/>
<circle cx="181.05" cy="479.32" r="2.05" fill="#111"/>
<circle cx="184.75" cy="479.32" r="1.6" fill="#fff" stroke="#111" stroke-width="0.95"/>
<circle cx="188.45" cy="479.32" r="2.05" fill="#111"/>
<circle cx="192.15" cy="479.32" r="2.05" fill="#111"/>
<circle cx="195.85" cy="479.32" r="2.05" fill="#111"/>
<circle cx="199.55" cy="479.32" r="2.05" fill="#111"/>
<circle cx="203.25" cy="479.32" r="2.05" fill="#111"/>
<circle cx="206.95" cy="479.32" r="2.05" fill="#111"/>
<circle cx="210.65" cy="479.32" r="2.05" fill="#111"/>
<line x1="138.20" y1="488.50" x2="216.10" y2="488.50" stroke="#111" stroke-width="1.1" />
<circle cx="140.35" cy="485.95" r="1.6" fill="#fff" stroke="#111" stroke-width="0.95"/>
<circle cx="144.05" cy="485.95" r="2.05" fill="#111"/>
<circle cx="147.75" cy="485.95" r="2.05" fill="#111"/>
<circle cx="151.45" cy="485.95" r="2.05" fill="#111"/>
<circle cx="155.15" cy="485.95" r="2.05" fill="#111"/>
<circle cx="158.85" cy="485.95" r="2.05" fill="#111"/>
<circle cx="162.55" cy="485.95" r="2.05" fill="#111"/>
<circle cx="166.25" cy="485.95" r="2.05" fill="#111"/>
<circle cx="169.95" cy="485.95" r="2.05" fill="#111"/>
<circle cx="173.65" cy="485.95" r="2.05" fill="#111"/>
<circle cx="177.35" cy="485.95" r="2.05" fill="#111"/>
<circle cx="181.05" cy="485.95" r="2.05" fill="#111"/>
<circle cx="184.75" cy="485.95" r="1.6" fill="#fff" stroke="#111" stroke-width="0.95"/>
<circle cx="188.45" cy="485.95" r="2.05" fill="#111"/>
<circle cx="192.15" cy="485.95" r="2.05" fill="#111"/>
<circle cx="195.85" cy="485.95" r="2.05" fill="#111"/>
<circle cx="199.55" cy="485.95" r="2.05" fill="#111"/>
<circle cx="203.25" cy="485.95" r="2.05" fill="#111"/>
<circle cx="206.95" cy="485.95" r="2.05" fill="#111"/>
<circle cx="210.65" cy="485.95" r="2.05" fill="#111"/>
<line x1="138.20" y1="495.13" x2="216.10" y2="495.13" stroke="#111" stroke-width="1.1" />
<circle cx="140.35" cy="492.58" r="1.6" fill="#fff" stroke="#111" stroke-width="0.95"/>
<circle cx="144.05" cy="492.58" r="2.05" fill="#111"/>
<circle cx="147.75" cy="492.58" r="2.05" fill="#111"/>
<circle cx="151.45" cy="492.58" r="2.05" fill="#111"/>
<circle cx="155.15" cy="492.58" r="2.05" fill="#111"/>
<circle cx="158.85" cy="492.58" r="2.05" fill="#111"/>
<circle cx="162.55" cy="492.58" r="2.05" fill="#111"/>
<circle cx="166.25" cy="492.58" r="2.05" fill="#111"/>
<circle cx="169.95" cy="492.58" r="2.05" fill="#111"/>
<circle cx="173.65" cy="492.58" r="1.6" fill="#fff" stroke="#111" stroke-width="0.95"/>
<circle cx="177.35" cy="492.58" r="2.05" fill="#111"/>
<circle cx="181.05" cy="492.58" r="2.05" fill="#111"/>
<circle cx="184.75" cy="492.58" r="1.6" fill="#fff" stroke="#111" stroke-width="0.95"/>
<circle cx="188.45" cy="492.58" r="2.05" fill="#111"/>
<circle cx="192.15" cy="492.58" r="2.05" fill="#111"/>
<circle cx="195.85" cy="492.58" r="2.05" fill="#111"/>
<circle cx="199.55" cy="492.58" r="2.05" fill="#111"/>
<circle cx="203.25" cy="492.58" r="2.05" fill="#111"/>
<circle cx="206.95" cy="492.58" r="2.05" fill="#111"/>
<circle cx="210.65" cy="492.58" r="2.05" fill="#111"/>
<text x="126.3" y="524.2" font-size="10.5" font-weight="normal" text-anchor="start" fill="#111" >ALL-19</text>
<line x1="138.20" y1="533.15" x2="216.10" y2="533.15" stroke="#111" stroke-width="1.1" />
<circle cx="140.35" cy="530.60" r="1.6" fill="#fff" stroke="#111" stroke-width="0.95"/>
<circle cx="144.05" cy="530.60" r="1.6" fill="#fff" stroke="#111" stroke-width="0.95"/>
<circle cx="147.75" cy="530.60" r="1.6" fill="#fff" stroke="#111" stroke-width="0.95"/>
<circle cx="151.45" cy="530.60" r="1.6" fill="#fff" stroke="#111" stroke-width="0.95"/>
<circle cx="155.15" cy="530.60" r="1.6" fill="#fff" stroke="#111" stroke-width="0.95"/>
<circle cx="158.85" cy="530.60" r="1.6" fill="#fff" stroke="#111" stroke-width="0.95"/>
<circle cx="162.55" cy="530.60" r="1.6" fill="#fff" stroke="#111" stroke-width="0.95"/>
<circle cx="166.25" cy="530.60" r="1.6" fill="#fff" stroke="#111" stroke-width="0.95"/>
<circle cx="169.95" cy="530.60" r="1.6" fill="#fff" stroke="#111" stroke-width="0.95"/>
<circle cx="173.65" cy="530.60" r="1.6" fill="#fff" stroke="#111" stroke-width="0.95"/>
<circle cx="177.35" cy="530.60" r="1.6" fill="#fff" stroke="#111" stroke-width="0.95"/>
<circle cx="181.05" cy="530.60" r="1.6" fill="#fff" stroke="#111" stroke-width="0.95"/>
<circle cx="184.75" cy="530.60" r="1.6" fill="#fff" stroke="#111" stroke-width="0.95"/>
<circle cx="188.45" cy="530.60" r="1.6" fill="#fff" stroke="#111" stroke-width="0.95"/>
<circle cx="192.15" cy="530.60" r="1.6" fill="#fff" stroke="#111" stroke-width="0.95"/>
<circle cx="195.85" cy="530.60" r="1.6" fill="#fff" stroke="#111" stroke-width="0.95"/>
<circle cx="199.55" cy="530.60" r="1.6" fill="#fff" stroke="#111" stroke-width="0.95"/>
<circle cx="203.25" cy="530.60" r="2.05" fill="#111"/>
<circle cx="206.95" cy="530.60" r="2.05" fill="#111"/>
<circle cx="210.65" cy="530.60" r="2.05" fill="#111"/>
<line x1="138.20" y1="540.45" x2="216.10" y2="540.45" stroke="#111" stroke-width="1.1" />
<circle cx="140.35" cy="537.90" r="1.6" fill="#fff" stroke="#111" stroke-width="0.95"/>
<circle cx="144.05" cy="537.90" r="2.05" fill="#111"/>
<circle cx="147.75" cy="537.90" r="2.05" fill="#111"/>
<circle cx="151.45" cy="537.90" r="2.05" fill="#111"/>
<circle cx="155.15" cy="537.90" r="2.05" fill="#111"/>
<circle cx="158.85" cy="537.90" r="2.05" fill="#111"/>
<circle cx="162.55" cy="537.90" r="2.05" fill="#111"/>
<circle cx="166.25" cy="537.90" r="2.05" fill="#111"/>
<circle cx="169.95" cy="537.90" r="2.05" fill="#111"/>
<circle cx="173.65" cy="537.90" r="2.05" fill="#111"/>
<circle cx="177.35" cy="537.90" r="1.6" fill="#fff" stroke="#111" stroke-width="0.95"/>
<circle cx="181.05" cy="537.90" r="2.05" fill="#111"/>
<circle cx="184.75" cy="537.90" r="2.05" fill="#111"/>
<circle cx="188.45" cy="537.90" r="2.05" fill="#111"/>
<circle cx="192.15" cy="537.90" r="2.05" fill="#111"/>
<circle cx="195.85" cy="537.90" r="2.05" fill="#111"/>
<circle cx="199.55" cy="537.90" r="2.05" fill="#111"/>
<circle cx="203.25" cy="537.90" r="2.05" fill="#111"/>
<circle cx="206.95" cy="537.90" r="2.05" fill="#111"/>
<circle cx="210.65" cy="537.90" r="2.05" fill="#111"/>
<line x1="138.20" y1="547.75" x2="216.10" y2="547.75" stroke="#111" stroke-width="1.1" />
<circle cx="140.35" cy="545.20" r="1.6" fill="#fff" stroke="#111" stroke-width="0.95"/>
<circle cx="144.05" cy="545.20" r="2.05" fill="#111"/>
<circle cx="147.75" cy="545.20" r="2.05" fill="#111"/>
<circle cx="151.45" cy="545.20" r="2.05" fill="#111"/>
<circle cx="155.15" cy="545.20" r="2.05" fill="#111"/>
<circle cx="158.85" cy="545.20" r="2.05" fill="#111"/>
<circle cx="162.55" cy="545.20" r="2.05" fill="#111"/>
<circle cx="166.25" cy="545.20" r="2.05" fill="#111"/>
<circle cx="169.95" cy="545.20" r="2.05" fill="#111"/>
<circle cx="173.65" cy="545.20" r="2.05" fill="#111"/>
<circle cx="177.35" cy="545.20" r="1.6" fill="#fff" stroke="#111" stroke-width="0.95"/>
<circle cx="181.05" cy="545.20" r="2.05" fill="#111"/>
<circle cx="184.75" cy="545.20" r="2.05" fill="#111"/>
<circle cx="188.45" cy="545.20" r="2.05" fill="#111"/>
<circle cx="192.15" cy="545.20" r="2.05" fill="#111"/>
<circle cx="195.85" cy="545.20" r="2.05" fill="#111"/>
<circle cx="199.55" cy="545.20" r="2.05" fill="#111"/>
<circle cx="203.25" cy="545.20" r="2.05" fill="#111"/>
<circle cx="206.95" cy="545.20" r="2.05" fill="#111"/>
<circle cx="210.65" cy="545.20" r="1.6" fill="#fff" stroke="#111" stroke-width="0.95"/>
<line x1="138.20" y1="555.05" x2="216.10" y2="555.05" stroke="#111" stroke-width="1.1" />
<circle cx="140.35" cy="552.50" r="1.6" fill="#fff" stroke="#111" stroke-width="0.95"/>
<circle cx="144.05" cy="552.50" r="2.05" fill="#111"/>
<circle cx="147.75" cy="552.50" r="2.05" fill="#111"/>
<circle cx="151.45" cy="552.50" r="2.05" fill="#111"/>
<circle cx="155.15" cy="552.50" r="2.05" fill="#111"/>
<circle cx="158.85" cy="552.50" r="2.05" fill="#111"/>
<circle cx="162.55" cy="552.50" r="2.05" fill="#111"/>
<circle cx="166.25" cy="552.50" r="2.05" fill="#111"/>
<circle cx="169.95" cy="552.50" r="2.05" fill="#111"/>
<circle cx="173.65" cy="552.50" r="2.05" fill="#111"/>
<circle cx="177.35" cy="552.50" r="2.05" fill="#111"/>
<circle cx="181.05" cy="552.50" r="1.6" fill="#fff" stroke="#111" stroke-width="0.95"/>
<circle cx="184.75" cy="552.50" r="2.05" fill="#111"/>
<circle cx="188.45" cy="552.50" r="2.05" fill="#111"/>
<circle cx="192.15" cy="552.50" r="2.05" fill="#111"/>
<circle cx="195.85" cy="552.50" r="2.05" fill="#111"/>
<circle cx="199.55" cy="552.50" r="2.05" fill="#111"/>
<circle cx="203.25" cy="552.50" r="2.05" fill="#111"/>
<circle cx="206.95" cy="552.50" r="2.05" fill="#111"/>
<circle cx="210.65" cy="552.50" r="2.05" fill="#111"/>
<line x1="138.20" y1="562.35" x2="216.10" y2="562.35" stroke="#111" stroke-width="1.1" />
<circle cx="140.35" cy="559.80" r="1.6" fill="#fff" stroke="#111" stroke-width="0.95"/>
<circle cx="144.05" cy="559.80" r="2.05" fill="#111"/>
<circle cx="147.75" cy="559.80" r="2.05" fill="#111"/>
<circle cx="151.45" cy="559.80" r="2.05" fill="#111"/>
<circle cx="155.15" cy="559.80" r="2.05" fill="#111"/>
<circle cx="158.85" cy="559.80" r="2.05" fill="#111"/>
<circle cx="162.55" cy="559.80" r="2.05" fill="#111"/>
<circle cx="166.25" cy="559.80" r="2.05" fill="#111"/>
<circle cx="169.95" cy="559.80" r="2.05" fill="#111"/>
<circle cx="173.65" cy="559.80" r="2.05" fill="#111"/>
<circle cx="177.35" cy="559.80" r="2.05" fill="#111"/>
<circle cx="181.05" cy="559.80" r="1.6" fill="#fff" stroke="#111" stroke-width="0.95"/>
<circle cx="184.75" cy="559.80" r="2.05" fill="#111"/>
<circle cx="188.45" cy="559.80" r="2.05" fill="#111"/>
<circle cx="192.15" cy="559.80" r="2.05" fill="#111"/>
<circle cx="195.85" cy="559.80" r="2.05" fill="#111"/>
<circle cx="199.55" cy="559.80" r="2.05" fill="#111"/>
<circle cx="203.25" cy="559.80" r="2.05" fill="#111"/>
<circle cx="206.95" cy="559.80" r="2.05" fill="#111"/>
<circle cx="210.65" cy="559.80" r="2.05" fill="#111"/>
<line x1="138.20" y1="569.65" x2="216.10" y2="569.65" stroke="#111" stroke-width="1.1" />
<circle cx="140.35" cy="567.10" r="1.6" fill="#fff" stroke="#111" stroke-width="0.95"/>
<circle cx="144.05" cy="567.10" r="2.05" fill="#111"/>
<circle cx="147.75" cy="567.10" r="2.05" fill="#111"/>
<circle cx="151.45" cy="567.10" r="2.05" fill="#111"/>
<circle cx="155.15" cy="567.10" r="2.05" fill="#111"/>
<circle cx="158.85" cy="567.10" r="2.05" fill="#111"/>
<circle cx="162.55" cy="567.10" r="2.05" fill="#111"/>
<circle cx="166.25" cy="567.10" r="2.05" fill="#111"/>
<circle cx="169.95" cy="567.10" r="2.05" fill="#111"/>
<circle cx="173.65" cy="567.10" r="2.05" fill="#111"/>
<circle cx="177.35" cy="567.10" r="2.05" fill="#111"/>
<circle cx="181.05" cy="567.10" r="1.6" fill="#fff" stroke="#111" stroke-width="0.95"/>
<circle cx="184.75" cy="567.10" r="2.05" fill="#111"/>
<circle cx="188.45" cy="567.10" r="2.05" fill="#111"/>
<circle cx="192.15" cy="567.10" r="2.05" fill="#111"/>
<circle cx="195.85" cy="567.10" r="2.05" fill="#111"/>
<circle cx="199.55" cy="567.10" r="2.05" fill="#111"/>
<circle cx="203.25" cy="567.10" r="2.05" fill="#111"/>
<circle cx="206.95" cy="567.10" r="2.05" fill="#111"/>
<circle cx="210.65" cy="567.10" r="2.05" fill="#111"/>
<line x1="138.20" y1="576.95" x2="216.10" y2="576.95" stroke="#111" stroke-width="1.1" />
<circle cx="140.35" cy="574.40" r="1.6" fill="#fff" stroke="#111" stroke-width="0.95"/>
<circle cx="144.05" cy="574.40" r="2.05" fill="#111"/>
<circle cx="147.75" cy="574.40" r="2.05" fill="#111"/>
<circle cx="151.45" cy="574.40" r="2.05" fill="#111"/>
<circle cx="155.15" cy="574.40" r="2.05" fill="#111"/>
<circle cx="158.85" cy="574.40" r="2.05" fill="#111"/>
<circle cx="162.55" cy="574.40" r="2.05" fill="#111"/>
<circle cx="166.25" cy="574.40" r="2.05" fill="#111"/>
<circle cx="169.95" cy="574.40" r="2.05" fill="#111"/>
<circle cx="173.65" cy="574.40" r="2.05" fill="#111"/>
<circle cx="177.35" cy="574.40" r="2.05" fill="#111"/>
<circle cx="181.05" cy="574.40" r="1.6" fill="#fff" stroke="#111" stroke-width="0.95"/>
<circle cx="184.75" cy="574.40" r="2.05" fill="#111"/>
<circle cx="188.45" cy="574.40" r="2.05" fill="#111"/>
<circle cx="192.15" cy="574.40" r="2.05" fill="#111"/>
<circle cx="195.85" cy="574.40" r="2.05" fill="#111"/>
<circle cx="199.55" cy="574.40" r="2.05" fill="#111"/>
<circle cx="203.25" cy="574.40" r="2.05" fill="#111"/>
<circle cx="206.95" cy="574.40" r="2.05" fill="#111"/>
<circle cx="210.65" cy="574.40" r="2.05" fill="#111"/>
</g>
<g id="panelD">
<text x="259.5" y="343.7" font-size="17" font-weight="bold" text-anchor="start" fill="#111" >D</text>
<rect x="261.50" y="346.00" width="110.50" height="232.00" fill="#ffffff" stroke="none" stroke-width="1" />
<rect x="262.00" y="346.00" width="4.00" height="232.00" fill="#f8f8f8" stroke="none" stroke-width="1" />
<rect x="276.00" y="346.00" width="5.00" height="232.00" fill="#f3f3f3" stroke="none" stroke-width="1" />
<rect x="305.20" y="346.00" width="4.10" height="232.00" fill="#f5f5f5" stroke="none" stroke-width="1" />
<rect x="312.00" y="346.00" width="2.50" height="232.00" fill="#f1f1f1" stroke="none" stroke-width="1" />
<rect x="320.40" y="346.00" width="3.40" height="232.00" fill="#f8f8f8" stroke="none" stroke-width="1" />
<rect x="330.60" y="346.00" width="3.10" height="232.00" fill="#f6f6f6" stroke="none" stroke-width="1" />
<rect x="345.80" y="346.00" width="4.60" height="232.00" fill="#f6f6f6" stroke="none" stroke-width="1" />
<rect x="355.00" y="346.00" width="4.60" height="232.00" fill="#f9f9f9" stroke="none" stroke-width="1" />
<rect x="367.00" y="346.00" width="4.80" height="232.00" fill="#f8f8f8" stroke="none" stroke-width="1" />
<rect x="275.70" y="346.00" width="6.00" height="19.33" fill="#ececec" stroke="none" stroke-width="1" />
<rect x="291.50" y="346.00" width="4.50" height="19.33" fill="#dcdcdc" stroke="none" stroke-width="1" />
<rect x="305.20" y="346.00" width="4.30" height="19.33" fill="#c0c0c0" stroke="none" stroke-width="1" />
<rect x="311.80" y="346.00" width="2.70" height="19.33" fill="#7a7a7a" stroke="none" stroke-width="1" />
<rect x="279.70" y="365.33" width="2.00" height="19.33" fill="#b0b0b0" stroke="none" stroke-width="1" />
<rect x="305.20" y="365.33" width="2.00" height="19.33" fill="#7a7a7a" stroke="none" stroke-width="1" />
<rect x="311.80" y="365.33" width="2.70" height="19.33" fill="#7a7a7a" stroke="none" stroke-width="1" />
<rect x="330.60" y="365.33" width="3.30" height="19.33" fill="#aaaaaa" stroke="none" stroke-width="1" />
<rect x="320.40" y="365.33" width="3.40" height="19.33" fill="#f0f0f0" stroke="none" stroke-width="1" />
<rect x="275.30" y="384.67" width="5.70" height="19.33" fill="#eeeeee" stroke="none" stroke-width="1" />
<rect x="293.80" y="384.67" width="2.20" height="19.33" fill="#dddddd" stroke="none" stroke-width="1" />
<rect x="320.40" y="384.67" width="4.60" height="19.33" fill="#f0f0f0" stroke="none" stroke-width="1" />
<rect x="329.60" y="384.67" width="4.60" height="19.33" fill="#f0f0f0" stroke="none" stroke-width="1" />
<rect x="345.80" y="384.67" width="4.60" height="19.33" fill="#eeeeee" stroke="none" stroke-width="1" />
<rect x="355.00" y="384.67" width="4.60" height="19.33" fill="#eeeeee" stroke="none" stroke-width="1" />
<rect x="363.00" y="384.67" width="5.80" height="19.33" fill="#aaaaaa" stroke="none" stroke-width="1" />
<rect x="368.80" y="384.67" width="3.00" height="19.33" fill="#bcbcbc" stroke="none" stroke-width="1" />
<rect x="304.00" y="384.67" width="12.00" height="19.33" fill="#ffffff" stroke="none" stroke-width="1" />
<rect x="262.00" y="404.00" width="8.50" height="19.33" fill="#bbbbbb" stroke="none" stroke-width="1" />
<rect x="273.10" y="404.00" width="23.00" height="19.33" fill="#1c1c1c" stroke="none" stroke-width="1" />
<rect x="279.70" y="404.00" width="2.00" height="19.33" fill="#444" stroke="none" stroke-width="1" />
<rect x="287.00" y="404.00" width="1.60" height="19.33" fill="#444" stroke="none" stroke-width="1" />
<rect x="305.20" y="404.00" width="2.30" height="19.33" fill="#cccccc" stroke="none" stroke-width="1" />
<rect x="311.80" y="404.00" width="2.70" height="19.33" fill="#888888" stroke="none" stroke-width="1" />
<rect x="367.00" y="404.00" width="4.80" height="19.33" fill="#cccccc" stroke="none" stroke-width="1" />
<rect x="275.70" y="423.33" width="6.00" height="19.33" fill="#ebebeb" stroke="none" stroke-width="1" />
<rect x="287.00" y="423.33" width="1.60" height="19.33" fill="#cccccc" stroke="none" stroke-width="1" />
<rect x="305.20" y="423.33" width="2.30" height="19.33" fill="#dddddd" stroke="none" stroke-width="1" />
<rect x="311.80" y="423.33" width="2.40" height="19.33" fill="#bbbbbb" stroke="none" stroke-width="1" />
<rect x="330.60" y="423.33" width="3.10" height="19.33" fill="#e6e6e6" stroke="none" stroke-width="1" />
<rect x="346.00" y="423.33" width="4.60" height="19.33" fill="#dddddd" stroke="none" stroke-width="1" />
<rect x="305.20" y="442.66" width="4.30" height="19.33" fill="#aaaaaa" stroke="none" stroke-width="1" />
<rect x="311.80" y="442.66" width="2.70" height="19.33" fill="#7a7a7a" stroke="none" stroke-width="1" />
<rect x="330.60" y="442.66" width="1.40" height="19.33" fill="#cccccc" stroke="none" stroke-width="1" />
<rect x="367.00" y="442.66" width="4.30" height="19.33" fill="#ececec" stroke="none" stroke-width="1" />
<rect x="264.00" y="462.00" width="2.00" height="19.33" fill="#dddddd" stroke="none" stroke-width="1" />
<rect x="275.70" y="462.00" width="6.00" height="19.33" fill="#f2f2f2" stroke="none" stroke-width="1" />
<rect x="330.60" y="462.00" width="3.10" height="19.33" fill="#f0f0f0" stroke="none" stroke-width="1" />
<rect x="305.20" y="481.33" width="1.80" height="19.33" fill="#cccccc" stroke="none" stroke-width="1" />
<rect x="311.80" y="481.33" width="2.00" height="19.33" fill="#cccccc" stroke="none" stroke-width="1" />
<rect x="344.50" y="481.33" width="8.20" height="19.33" fill="#ececec" stroke="none" stroke-width="1" />
<rect x="364.50" y="481.33" width="7.30" height="19.33" fill="#888888" stroke="none" stroke-width="1" />
<rect x="275.70" y="500.66" width="5.80" height="19.33" fill="#e8e8e8" stroke="none" stroke-width="1" />
<rect x="305.20" y="500.66" width="4.30" height="19.33" fill="#999999" stroke="none" stroke-width="1" />
<rect x="312.00" y="500.66" width="2.50" height="19.33" fill="#888888" stroke="none" stroke-width="1" />
<rect x="330.20" y="500.66" width="2.50" height="19.33" fill="#888888" stroke="none" stroke-width="1" />
<rect x="262.00" y="520.00" width="3.90" height="19.33" fill="#bbbbbb" stroke="none" stroke-width="1" />
<rect x="320.70" y="520.00" width="2.50" height="19.33" fill="#e8e8e8" stroke="none" stroke-width="1" />
<rect x="370.50" y="520.00" width="1.50" height="19.33" fill="#e0e0e0" stroke="none" stroke-width="1" />
<rect x="275.70" y="539.33" width="5.80" height="19.33" fill="#e8e8e8" stroke="none" stroke-width="1" />
<rect x="286.40" y="539.33" width="2.50" height="19.33" fill="#cccccc" stroke="none" stroke-width="1" />
<rect x="293.80" y="539.33" width="2.50" height="19.33" fill="#cccccc" stroke="none" stroke-width="1" />
<rect x="312.00" y="539.33" width="2.20" height="19.33" fill="#dddddd" stroke="none" stroke-width="1" />
<rect x="306.00" y="539.33" width="1.60" height="19.33" fill="#eeeeee" stroke="none" stroke-width="1" />
<rect x="275.70" y="558.66" width="5.80" height="19.33" fill="#e8e8e8" stroke="none" stroke-width="1" />
<rect x="304.00" y="558.66" width="5.30" height="19.33" fill="#dddddd" stroke="none" stroke-width="1" />
<rect x="312.00" y="558.66" width="2.20" height="19.33" fill="#e8e8e8" stroke="none" stroke-width="1" />
<rect x="364.80" y="558.66" width="6.90" height="19.33" fill="#aaaaaa" stroke="none" stroke-width="1" />
<rect x="296.10" y="346.00" width="2.20" height="232.00" fill="#666666" stroke="none" stroke-width="1" />
<rect x="298.30" y="346.00" width="2.10" height="232.00" fill="#999999" stroke="none" stroke-width="1" />
<line x1="261.00" y1="580.00" x2="269.50" y2="580.00" stroke="#555" stroke-width="1.8" />
<line x1="272.00" y1="580.00" x2="296.80" y2="580.00" stroke="#555" stroke-width="1.8" />
<line x1="299.60" y1="580.00" x2="334.20" y2="580.00" stroke="#555" stroke-width="1.8" />
<line x1="336.30" y1="580.00" x2="361.50" y2="580.00" stroke="#555" stroke-width="1.8" />
<line x1="363.20" y1="580.00" x2="372.00" y2="580.00" stroke="#555" stroke-width="1.8" />
<text x="265.2" y="590.5" font-size="10" font-weight="normal" text-anchor="middle" fill="#111" >1a</text>
<text x="284" y="590.5" font-size="10" font-weight="normal" text-anchor="middle" fill="#111" >2a</text>
<text x="316.3" y="590.5" font-size="10" font-weight="normal" text-anchor="middle" fill="#111" >3a</text>
<text x="348.5" y="590.5" font-size="10" font-weight="normal" text-anchor="middle" fill="#111" >4a</text>
<text x="367.6" y="590.5" font-size="10" font-weight="normal" text-anchor="middle" fill="#111" >5a</text>
<text x="375.8" y="359.4665" font-size="10.5" font-weight="normal" text-anchor="start" fill="#111" >ALL-11</text>
<text x="375.8" y="378.7995" font-size="10.5" font-weight="normal" text-anchor="start" fill="#111" >ALL-25</text>
<text x="375.8" y="398.1325" font-size="10.5" font-weight="normal" text-anchor="start" fill="#111" >ALL-3</text>
<text x="375.8" y="417.4655" font-size="10.5" font-weight="normal" text-anchor="start" fill="#111" >ALL-16</text>
<text x="375.8" y="436.7985" font-size="10.5" font-weight="normal" text-anchor="start" fill="#111" >ALL4</text>
<text x="375.8" y="456.1315" font-size="10.5" font-weight="normal" text-anchor="start" fill="#111" >ALL-31</text>
<text x="375.8" y="475.4645" font-size="10.5" font-weight="normal" text-anchor="start" fill="#111" >ALL-7</text>
<text x="375.8" y="494.7975" font-size="10.5" font-weight="normal" text-anchor="start" fill="#111" >ALL-19</text>
<text x="375.8" y="514.1305" font-size="10.5" font-weight="normal" text-anchor="start" fill="#111" >ALL-8</text>
<text x="375.8" y="533.4635" font-size="10.5" font-weight="normal" text-anchor="start" fill="#111" >ALL-2</text>
<text x="375.8" y="552.7964999999999" font-size="10.5" font-weight="normal" text-anchor="start" fill="#111" >ALL-17</text>
<text x="375.8" y="572.1295" font-size="10.5" font-weight="normal" text-anchor="start" fill="#111" >ALL-10</text>
<polygon points="414.7,342.8 429.7,342.8 416.8,578.2 414.7,578.2" fill="#000"/>
<text transform="translate(442,462.8) rotate(-90)" font-size="10.4" font-weight="bold" text-anchor="middle" fill="#111">Bim induction</text>
<defs><linearGradient id="cb" x1="0" x2="1" y1="0" y2="0"><stop offset="0" stop-color="#fafafa"/><stop offset="0.5" stop-color="#8c8c8c"/><stop offset="1" stop-color="#181818"/></linearGradient></defs>
<rect x="433.80" y="556.20" width="73.70" height="28.80" fill="url(#cb)" stroke="none" stroke-width="1" />
<line x1="433.80" y1="556.20" x2="433.80" y2="585.00" stroke="#333" stroke-width="0.9" />
<line x1="433.80" y1="585.00" x2="507.50" y2="585.00" stroke="#333" stroke-width="0.9" />
<line x1="429.60" y1="558.80" x2="433.80" y2="558.80" stroke="#333" stroke-width="0.9" />
<line x1="429.60" y1="564.20" x2="433.80" y2="564.20" stroke="#333" stroke-width="0.9" />
<line x1="429.60" y1="569.60" x2="433.80" y2="569.60" stroke="#333" stroke-width="0.9" />
<line x1="429.60" y1="574.80" x2="433.80" y2="574.80" stroke="#333" stroke-width="0.9" />
<line x1="429.60" y1="580.20" x2="433.80" y2="580.20" stroke="#333" stroke-width="0.9" />
<line x1="429.60" y1="585.00" x2="433.80" y2="585.00" stroke="#333" stroke-width="0.9" />
<line x1="433.80" y1="585.00" x2="433.80" y2="587.30" stroke="#333" stroke-width="0.9" />
<line x1="448.80" y1="585.00" x2="448.80" y2="587.30" stroke="#333" stroke-width="0.9" />
<line x1="463.80" y1="585.00" x2="463.80" y2="587.30" stroke="#333" stroke-width="0.9" />
<line x1="479.20" y1="585.00" x2="479.20" y2="587.30" stroke="#333" stroke-width="0.9" />
<line x1="494.00" y1="585.00" x2="494.00" y2="587.30" stroke="#333" stroke-width="0.9" />
<text x="433.8" y="595" font-size="8.5" font-weight="normal" text-anchor="middle" fill="#333" >0</text>
<text x="464.7" y="595" font-size="8.5" font-weight="normal" text-anchor="middle" fill="#333" >0.4</text>
<text x="495" y="595" font-size="8.5" font-weight="normal" text-anchor="middle" fill="#333" >0.8</text>
<text x="470.5" y="605.2" font-size="9.8" font-weight="bold" text-anchor="middle" fill="#111" >Fraction methylation</text>
</g>
</svg>
</body>
</html>
